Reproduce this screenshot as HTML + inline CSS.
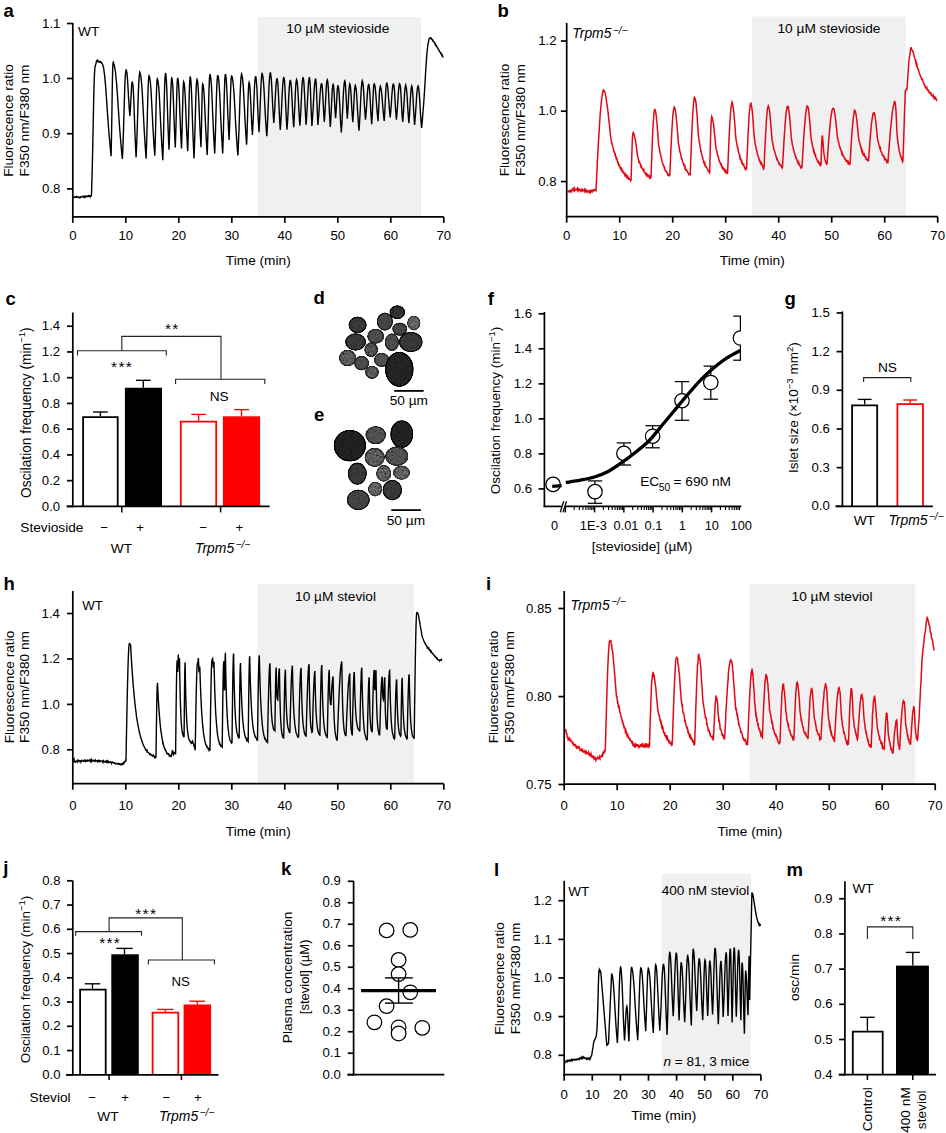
<!DOCTYPE html>
<html><head><meta charset="utf-8"><style>
html,body{margin:0;padding:0;background:#fff;width:946px;height:1133px;overflow:hidden}
svg{display:block}
text{font-family:"Liberation Sans", sans-serif}
</style></head><body>
<svg width="946" height="1133" viewBox="0 0 946 1133">
<defs><filter id="tex" x="-10%" y="-10%" width="120%" height="120%"><feTurbulence type="fractalNoise" baseFrequency="0.55" numOctaves="2" seed="4" result="n"/><feColorMatrix in="n" type="matrix" values="1 0 0 0 0  1 0 0 0 0  1 0 0 0 0  0 0 0 0 1" result="g"/><feComposite in="g" in2="SourceGraphic" operator="arithmetic" k1="1.6" k2="0" k3="0.2" k4="0"/></filter><filter id="tex2" x="-10%" y="-10%" width="120%" height="120%"><feTurbulence type="fractalNoise" baseFrequency="0.6" numOctaves="2" seed="9" result="n"/><feColorMatrix in="n" type="matrix" values="1 0 0 0 0  1 0 0 0 0  1 0 0 0 0  0 0 0 0 1" result="g"/><feComposite in="g" in2="SourceGraphic" operator="arithmetic" k1="2.6" k2="0" k3="-0.3" k4="0"/></filter></defs>
<rect width="946" height="1133" fill="#fff"/>
<text x="3.5" y="17" font-size="18.5" font-weight="bold" fill="#000">a</text>
<rect x="258" y="17" width="163" height="200" fill="#f0f0f0" stroke="none" stroke-width="0"/>
<text x="337.8" y="32.9" font-size="13.7" text-anchor="middle" fill="#000">10 µM stevioside</text>
<text x="78" y="35.8" font-size="13.7" fill="#000">WT</text>
<polyline points="73.5,197.24 73.75,197.38 74,197.14 74.25,197.07 74.5,196.87 74.75,197 75,197.28 75.25,197.06 75.5,197.16 75.75,196.91 76,196.9 76.25,196.91 76.5,196.52 76.75,197.21 77,197.19 77.25,197.26 77.5,196.78 77.75,196.83 78,197.11 78.25,197.28 78.5,197.54 78.75,197.52 79,197.73 79.25,197.35 79.5,197.49 79.75,197.42 80,197.07 80.25,197.57 80.5,197.19 80.75,197.26 81,196.71 81.25,196.59 81.5,196.6 81.75,196.57 82,196.66 82.25,196.6 82.5,196.47 82.75,196.39 83,196.54 83.25,197.01 83.5,196.55 83.75,196.85 84,196.94 84.25,196.5 84.5,196.93 84.75,197.28 85,196.5 85.25,196.84 85.5,196.81 85.75,196.55 86,196.79 86.25,196.57 86.5,196.13 86.75,196.62 87,196.5 87.25,196.49 87.5,196.53 87.75,196.17 88,196.03 88.25,195.73 88.5,196.25 88.75,196 89,196.09 89.25,195.93 89.5,196.06 89.75,196.22 90,196.72 90.25,195.74 90.5,195.74 90.75,196.01 91,196.16 91.25,195.79 91.5,195.03 91.76,185.77 92.03,176.86 92.29,166.23 92.56,154.84 92.82,143.02 93.09,129.81 93.35,116.04 93.61,103.16 93.88,91.86 94.14,82.93 94.41,75.72 94.67,70.8 94.94,67.71 95.2,65.61 95.46,65.42 95.72,64.44 95.98,63.43 96.24,61.91 96.5,61.34 96.75,61.46 97,60.55 97.25,60.7 97.5,60.75 97.75,60.39 98,61.34 98.25,61.29 98.5,61.33 98.75,61.66 99,61.96 99.25,61.78 99.5,61.99 99.75,61.48 100,61.5 100.25,61.81 100.5,61.51 100.75,61.61 101,62.4 101.25,62.87 101.5,62.72 101.75,62.82 102,63.47 102.25,63.78 102.51,64.21 102.76,65.26 103.01,65.45 103.26,66.99 103.52,67.53 103.77,69.02 104.02,70.96 104.28,72.9 104.53,74.89 104.78,77.06 105.03,79.56 105.29,82.34 105.54,85.47 105.79,88.51 106.04,92.04 106.3,95.68 106.55,99.21 106.8,103.15 107.06,106.87 107.31,110.99 107.56,114.28 107.81,117.72 108.07,121.27 108.32,124.78 108.57,128.32 108.82,131.2 109.08,134.46 109.33,137.8 109.58,139.58 109.84,142.73 110.09,145.8 110.34,148.49 110.59,151.04 110.85,153.4 111.1,156.16 111.35,144.33 111.6,130.88 111.85,116.2 112.1,98.69 112.35,82.87 112.6,71.7 112.85,65.14 113.1,62.48 113.35,62.14 113.6,63.17 113.85,64.17 114.11,64.42 114.36,65.66 114.61,67.07 114.86,68.41 115.11,70.14 115.36,71.14 115.61,73.5 115.86,75.77 116.12,78.53 116.37,81.4 116.62,83.45 116.87,87.6 117.12,90.36 117.37,94.46 117.62,97.62 117.88,101.82 118.13,105.91 118.38,109.41 118.63,113.3 118.88,117.2 119.13,120.7 119.38,124.2 119.64,128.06 119.89,131.27 120.14,134.15 120.39,138.02 120.64,140.06 120.89,143.5 121.14,146.03 121.39,148.89 121.65,151.73 121.9,154.24 122.15,156.93 122.4,158.92 122.66,152.62 122.93,146.47 123.19,138.89 123.46,131.04 123.72,122.37 123.99,113.87 124.25,104.36 124.51,95.59 124.78,87.12 125.04,80.96 125.31,75.85 125.57,72.93 125.84,70.99 126.1,69.28 126.35,70.4 126.61,71.24 126.86,72.48 127.11,74.2 127.37,77.9 127.62,81.08 127.87,85.09 128.13,89.82 128.38,94.35 128.63,98.96 128.89,102.36 129.14,106.61 129.39,110.12 129.65,113.32 129.9,115.95 130.17,112.04 130.43,108.3 130.7,103.3 130.97,97.92 131.23,92.82 131.5,87.82 131.77,84.11 132.03,82.71 132.3,81.54 132.55,83.04 132.81,84.51 133.06,86.78 133.31,90.46 133.57,95.34 133.82,100.94 134.07,107.99 134.33,114.94 134.58,122.59 134.83,129.79 135.09,136.39 135.34,141.86 135.59,147.83 135.85,152.37 136.1,157.53 136.36,151.32 136.63,145.73 136.89,138.33 137.16,131.2 137.42,123.02 137.69,114.34 137.95,105.29 138.21,96.99 138.48,89.91 138.74,83.4 139.01,78.93 139.27,75.82 139.54,73.48 139.8,72.19 140.05,72.83 140.3,74 140.56,74.41 140.81,76.11 141.06,78.35 141.31,80.55 141.56,83.06 141.82,86.43 142.07,89.92 142.32,93.67 142.57,98.06 142.82,103.07 143.08,108.44 143.33,113.11 143.58,118.04 143.83,122.95 144.08,127.45 144.34,132.28 144.59,136.27 144.84,140.69 145.09,143.87 145.34,148.24 145.6,151.55 145.85,154.67 146.1,158.68 146.36,150.97 146.63,142.42 146.89,133.82 147.15,124.11 147.42,113.06 147.68,102.53 147.95,92.96 148.21,85.52 148.47,80.32 148.74,77.47 149,75.86 149.25,76.3 149.5,76.48 149.76,78.41 150.01,80.09 150.26,81.71 150.51,84.17 150.77,87.79 151.02,90.4 151.27,95 151.52,99.97 151.77,103.97 152.03,109.42 152.28,114.84 152.53,119.4 152.78,124.48 153.03,129.25 153.29,133.24 153.54,137.65 153.79,141.73 154.04,145.66 154.3,149.08 154.55,152.55 154.8,155.75 155.05,148.22 155.3,140.14 155.55,130.5 155.8,119.62 156.05,108.33 156.3,98.66 156.55,89.85 156.8,83.89 157.05,79.61 157.3,78.86 157.55,79.34 157.8,80.53 158.05,81.51 158.3,83.13 158.55,85.51 158.8,87.67 159.05,91.76 159.3,95.5 159.55,99.7 159.8,105.12 160.05,110.46 160.3,115.05 160.55,120.62 160.8,126.12 161.05,131.12 161.3,135.75 161.55,140.1 161.8,145.13 162.05,148.89 162.3,152.2 162.55,155.87 162.8,160.23 163.07,151.42 163.34,142.19 163.61,131.34 163.88,118.97 164.15,106.58 164.42,94.13 164.69,85.01 164.96,78.63 165.23,74.88 165.5,72.82 165.75,73.9 166,75.88 166.25,78.76 166.5,82.96 166.75,88.32 167,94.92 167.25,102.85 167.5,110.69 167.75,118.32 168,125.7 168.25,132.55 168.5,138.66 168.75,144.44 169,149.8 169.25,143.4 169.51,136.34 169.76,128.34 170.02,120.1 170.27,110.86 170.53,101.34 170.78,92.91 171.04,86.66 171.29,81.88 171.55,78.97 171.8,78.21 172.05,78.8 172.3,80.88 172.55,83.03 172.8,86.36 173.05,91.68 173.3,98.39 173.55,104.78 173.8,111.76 174.05,118.97 174.3,125.88 174.55,131.9 174.8,137.35 175.05,142.82 175.3,147.48 175.57,139.6 175.83,131.24 176.1,121.76 176.37,110.63 176.63,99.58 176.9,89.73 177.17,83.44 177.43,79.83 177.7,77.93 177.95,79.04 178.21,80.41 178.46,82.81 178.71,85.82 178.97,90.85 179.22,95.91 179.47,101.81 179.73,108.67 179.98,116.16 180.23,122.01 180.49,128.43 180.74,134.07 180.99,139.02 181.25,143.59 181.5,148.55 181.78,140.2 182.05,130.93 182.32,119.83 182.6,107.5 182.88,96.56 183.15,88.42 183.42,83.68 183.7,81.71 183.95,82.33 184.2,83.87 184.45,85.45 184.7,88.38 184.95,92.26 185.2,96.53 185.45,102.27 185.7,107.95 185.95,114.62 186.2,121.19 186.45,127.12 186.7,132.47 186.95,137.51 187.2,141.94 187.45,147.21 187.7,151.13 187.95,143.92 188.2,135.38 188.45,126.52 188.7,115.92 188.95,105.77 189.2,95.71 189.45,86.92 189.7,81.8 189.95,78.65 190.2,76.56 190.45,77.44 190.71,79.35 190.96,82.14 191.21,85.75 191.47,91.12 191.72,97.41 191.97,104.75 192.23,112.61 192.48,120.74 192.73,128.27 192.99,134.72 193.24,141.41 193.49,147.28 193.75,152.9 194,158.48 194.25,151.99 194.5,145.13 194.75,136.97 195,128.57 195.25,119.58 195.5,109.89 195.75,100.75 196,93.08 196.25,87.01 196.5,83.29 196.75,80.69 197,79.38 197.25,79.91 197.5,81.32 197.75,82.65 198,85.85 198.25,89.75 198.5,93.92 198.75,99.71 199,105.65 199.25,111.48 199.5,117.89 199.75,123.69 200,129.27 200.25,134.29 200.5,138.76 200.75,142.93 201,147.26 201.28,136.52 201.57,123.85 201.85,108.64 202.13,94.95 202.42,86.83 202.7,84.11 202.95,84.61 203.2,85.6 203.45,87.49 203.7,89.65 203.95,92.76 204.2,96.56 204.45,100.75 204.7,106.51 204.95,111.38 205.2,117.47 205.45,122.92 205.7,128.64 205.95,132.9 206.2,138.1 206.45,142.82 206.7,147.12 206.95,151.55 207.2,154.88 207.45,147.86 207.71,139.88 207.96,131.23 208.22,121.38 208.47,110.64 208.73,100.25 208.98,90.55 209.24,83.89 209.49,78.36 209.75,75.66 210,74.73 210.26,74.82 210.52,76.09 210.78,78.22 211.04,80.47 211.31,83.58 211.57,88 211.83,93.06 212.09,98.78 212.35,104.62 212.61,111.7 212.87,118.08 213.13,123.81 213.39,129.64 213.66,134.84 213.92,140.33 214.18,144.52 214.44,149.36 214.7,153.38 214.95,146.86 215.2,140.29 215.45,132.86 215.7,124.1 215.95,114.71 216.2,105.51 216.45,96.25 216.7,88.67 216.95,83.12 217.2,78.97 217.45,76.07 217.7,75.57 217.95,75.58 218.2,76.78 218.45,77.91 218.7,80.1 218.95,82.3 219.2,86.48 219.45,90.33 219.7,94.29 219.95,99.38 220.2,104.9 220.45,111.34 220.7,116.66 220.95,122.3 221.2,127.5 221.45,132.49 221.7,136.89 221.95,141.55 222.2,145.34 222.45,149.65 222.7,153.58 222.97,145.73 223.24,136.94 223.51,127.09 223.78,116.44 224.05,104.7 224.32,94.39 224.59,85.53 224.86,79.33 225.13,75.68 225.4,74.02 225.66,74.76 225.93,76.48 226.19,79.12 226.46,82.7 226.72,87.39 226.99,93.52 227.25,99.35 227.51,106.39 227.78,113.79 228.04,118.88 228.31,124.93 228.57,130.35 228.84,135.23 229.1,139.9 229.35,133.37 229.6,126.55 229.85,118.64 230.1,110 230.35,99.98 230.6,91.48 230.85,84.71 231.1,79.61 231.35,76.73 231.6,75.86 231.85,75.97 232.1,77.01 232.36,78.05 232.61,79.29 232.86,81.05 233.11,83 233.36,85.2 233.62,88.51 233.87,92.04 234.12,95.61 234.37,99.91 234.62,104.58 234.88,108.82 235.13,113.91 235.38,118.89 235.63,122.85 235.88,127.4 236.14,131.51 236.39,135.9 236.64,139.37 236.89,143.11 237.14,146.17 237.4,149.66 237.65,152.87 237.9,155.56 238.16,150.63 238.43,144.42 238.69,137.23 238.96,130.74 239.22,122.74 239.49,114.55 239.75,106 240.01,97.4 240.28,90.57 240.54,85.19 240.81,80.28 241.07,77.09 241.34,75.05 241.6,74.09 241.85,75 242.1,76.24 242.35,77.26 242.6,79.04 242.85,81.9 243.1,84.16 243.35,87.67 243.6,92.11 243.85,96.74 244.1,101.33 244.35,106.44 244.6,111.93 244.85,116.89 245.1,121.22 245.35,125.94 245.6,130.01 245.85,134.19 246.1,137.77 246.35,141.34 246.6,144.71 246.85,138.86 247.1,132.16 247.35,124.1 247.6,115.82 247.85,106.3 248.1,98 248.35,91.35 248.6,86.84 248.85,83.56 249.1,82.38 249.35,83.16 249.61,84.18 249.86,86.86 250.12,90 250.37,94.63 250.62,99.55 250.88,105.17 251.13,111.56 251.38,117.17 251.64,122.03 251.89,126.99 252.15,130.94 252.4,134.85 252.67,130.28 252.93,124.58 253.2,119.12 253.47,112.97 253.73,106.28 254,98.86 254.27,92.2 254.53,86.22 254.8,82.07 255.07,79.38 255.33,76.92 255.6,76.79 255.86,76.79 256.12,78.49 256.38,80.97 256.65,84.7 256.91,88.77 257.17,94.16 257.43,101.03 257.69,107.32 257.95,113.17 258.22,119.04 258.48,123.32 258.74,127.83 259,132.23 259.26,127.29 259.52,122.47 259.77,116.11 260.03,110.07 260.29,102.45 260.55,96.41 260.81,89.4 261.07,84.03 261.33,79.99 261.58,76.44 261.84,74.52 262.1,73.58 262.36,74.02 262.62,75.04 262.88,76.81 263.14,78.67 263.41,81.3 263.67,84.53 263.93,88.75 264.19,93.15 264.45,97.91 264.71,103.22 264.97,108.08 265.23,112.69 265.49,117.91 265.76,121.93 266.02,125.55 266.28,129.8 266.54,133.18 266.8,136.11 267.05,132.44 267.3,127.4 267.55,122.46 267.8,116.75 268.05,110.61 268.3,103.77 268.55,97.76 268.8,91.2 269.05,85.56 269.3,81.19 269.55,77.71 269.8,75.46 270.05,73.68 270.3,72.99 270.55,73.07 270.8,74.7 271.05,76.86 271.3,79.72 271.55,82.85 271.8,87.29 272.05,92.7 272.3,97.45 272.55,102.83 272.8,107.83 273.05,111.78 273.3,116.07 273.55,119.31 273.8,123.05 274.07,119.33 274.33,115.47 274.6,111.44 274.87,107.01 275.13,101.04 275.4,95.66 275.67,90.82 275.93,86.11 276.2,83.19 276.47,80.92 276.73,79.31 277,78.83 277.25,79 277.51,80.98 277.76,82.65 278.02,86.07 278.27,90.35 278.52,95.53 278.78,101.51 279.03,107.04 279.28,112.31 279.54,117.46 279.79,122.2 280.05,125.93 280.3,129.89 280.55,126.43 280.8,122.29 281.05,117.71 281.3,114.08 281.55,109.02 281.8,102.61 282.05,97.62 282.3,92.51 282.55,88.06 282.8,84.26 283.05,81.2 283.3,79.03 283.55,78.06 283.8,77.66 284.07,77.93 284.33,79.61 284.6,82.56 284.87,85.99 285.13,91.53 285.4,97.52 285.67,104.13 285.93,110 286.2,115.58 286.47,120.76 286.73,125.47 287,129.63 287.25,126.06 287.51,122.25 287.76,118.04 288.02,113.42 288.27,107.58 288.52,102.14 288.78,96.15 289.03,92.27 289.28,87.52 289.54,84.58 289.79,82.55 290.05,80.73 290.3,80.52 290.56,81.03 290.82,81.86 291.08,84.45 291.35,87.63 291.61,90.76 291.87,96.14 292.13,101.19 292.39,106.51 292.65,111.45 292.92,116.18 293.18,119.9 293.44,123.96 293.7,127.2 293.96,123.17 294.23,118.12 294.49,113.12 294.75,107.8 295.02,101.19 295.28,94.77 295.55,88.99 295.81,84.79 296.07,82.07 296.34,80.47 296.6,79.51 296.85,80.16 297.11,81.3 297.36,83.69 297.62,86.19 297.87,90.02 298.12,95.06 298.38,100.03 298.63,105.15 298.88,110 299.14,114.56 299.39,118.86 299.65,122.56 299.9,125.7 300.17,122.11 300.43,117.75 300.7,112.76 300.97,107.99 301.23,102.02 301.5,96.08 301.77,90.76 302.03,86.15 302.3,82.02 302.57,79.79 302.83,77.92 303.1,77.98 303.35,78 303.6,79.93 303.85,81.91 304.1,85.81 304.35,90.79 304.6,95.07 304.85,101.37 305.1,107.17 305.35,112.11 305.6,116.55 305.85,121.44 306.1,124.82 306.35,120.8 306.61,117.59 306.86,112.8 307.12,108.96 307.37,103.52 307.62,98.4 307.88,93.42 308.13,88.37 308.38,84.05 308.64,80.99 308.89,79.63 309.15,78.23 309.4,77.2 309.65,78.59 309.9,80.69 310.15,84.39 310.4,88.97 310.65,96.09 310.9,103.49 311.15,110.13 311.4,116.11 311.65,120.55 311.9,126.04 312.16,122.83 312.43,119.85 312.69,115.23 312.96,111.29 313.22,106.91 313.49,102.33 313.75,97.1 314.01,92.82 314.28,88.23 314.54,85.15 314.81,82.43 315.07,80.83 315.34,79.5 315.6,78.7 315.86,80.46 316.11,82.79 316.37,86.87 316.62,93.22 316.88,100.71 317.13,107.44 317.39,114.08 317.64,119.86 317.9,124.93 318.16,121.82 318.43,118.31 318.69,115.86 318.96,112.03 319.22,108.03 319.49,103.74 319.75,99.57 320.01,95.3 320.28,91.54 320.54,88.67 320.81,86.49 321.07,84.93 321.34,83.81 321.6,83.76 321.87,84.05 322.14,86.28 322.41,88.78 322.68,93.35 322.95,98.89 323.22,104.24 323.49,109.34 323.76,114.26 324.03,118.49 324.3,121.87 324.55,118.66 324.8,115.11 325.05,110.85 325.3,106.44 325.55,101.62 325.8,96.46 326.05,91.61 326.3,87.39 326.55,84.01 326.8,81.89 327.05,80.48 327.3,79.82 327.55,80.58 327.8,81.7 328.05,84.49 328.3,88.1 328.55,92.5 328.8,98.19 329.05,104.11 329.3,109.51 329.55,115.15 329.8,118.56 330.05,123.35 330.3,126.84 330.55,123.68 330.81,119.92 331.06,114 331.32,109.48 331.57,103.94 331.83,98.12 332.08,93.38 332.34,88.84 332.59,86.96 332.85,85.24 333.1,84.41 333.35,84.94 333.6,86.78 333.85,89.07 334.1,92.97 334.35,97.44 334.6,101.98 334.85,107.23 335.1,111.45 335.35,115.3 335.6,118.28 335.87,114.82 336.13,110.91 336.4,106.14 336.67,101.18 336.93,96.09 337.2,90.91 337.47,87.53 337.73,86.4 338,85.78 338.25,86.26 338.51,87.52 338.76,89.22 339.02,92.15 339.27,96.44 339.52,100.71 339.78,105.69 340.03,111.14 340.28,116.96 340.54,121.33 340.79,124.79 341.05,128.56 341.3,132.36 341.55,128.52 341.8,125.22 342.05,120.78 342.3,116.06 342.55,111.78 342.8,106.07 343.05,100.92 343.3,95.76 343.55,91.2 343.8,87.72 344.05,84.71 344.3,82.48 344.55,81.17 344.8,80.78 345.05,81.66 345.3,83.53 345.55,86.37 345.8,90.58 346.05,95.57 346.3,100.8 346.55,105.97 346.8,110.19 347.05,114.74 347.3,118.62 347.55,115.21 347.8,111.31 348.05,107.1 348.3,102.64 348.55,97.39 348.8,92.87 349.05,89.08 349.3,86.39 349.55,85.12 349.8,83.96 350.05,84.59 350.3,85.69 350.55,87.67 350.8,91.1 351.05,94.89 351.3,98.85 351.55,103.65 351.8,108.29 352.05,112.29 352.3,116.08 352.55,118.84 352.8,122.14 353.05,118.74 353.3,114.98 353.55,110.14 353.8,104.82 354.05,99.56 354.3,94.45 354.55,90.37 354.8,88.18 355.05,85.99 355.3,85.41 355.56,86.49 355.83,87.34 356.09,88.85 356.36,91.07 356.62,94.57 356.89,98.87 357.15,103.16 357.41,108.09 357.68,112.46 357.94,116.91 358.21,120.71 358.47,124.51 358.74,128.12 359,130.64 359.25,127.2 359.51,123.25 359.76,118.68 360.02,113.94 360.27,108.95 360.52,103.67 360.78,97.79 361.03,92.7 361.28,88.08 361.54,85.81 361.79,83.16 362.05,81.77 362.3,80.82 362.57,81.68 362.83,82.64 363.1,84.93 363.37,87.92 363.63,91.59 363.9,96.11 364.17,100.55 364.43,105.66 364.7,109.29 364.97,112.74 365.23,116.57 365.5,119.61 365.77,116.63 366.03,113.67 366.3,110.41 366.57,106.25 366.83,102.35 367.1,98.42 367.37,94.16 367.63,90.49 367.9,87.92 368.17,86.03 368.43,84.93 368.7,84.58 368.95,84.99 369.2,85.7 369.45,88.38 369.7,91.17 369.95,95.51 370.2,99.85 370.45,104.96 370.7,110.21 370.95,113.74 371.2,117.63 371.45,121.12 371.7,124.2 371.95,120.23 372.2,116.32 372.45,111.03 372.7,105.06 372.95,99.14 373.2,94.04 373.45,89.19 373.7,86.19 373.95,84.51 374.2,83.94 374.45,84.5 374.71,85.06 374.96,86.07 375.21,87.82 375.47,90.53 375.72,93.29 375.97,96.18 376.23,99.97 376.48,103.57 376.73,107.01 376.99,110.11 377.24,112.89 377.49,115.84 377.75,118.17 378,121.31 378.27,116.75 378.55,111.37 378.82,106.27 379.1,99.8 379.38,93.28 379.65,90 379.93,87.31 380.2,86.62 380.45,86.14 380.7,87.24 380.95,88.23 381.2,89.59 381.45,91.46 381.7,94.02 381.95,96.14 382.2,99.26 382.45,102.42 382.7,105.78 382.95,108.75 383.2,111.77 383.45,114.3 383.7,116.63 383.95,118.69 384.2,120.89 384.45,117.45 384.7,113.26 384.95,108.44 385.2,103.09 385.45,98 385.7,92.26 385.95,88.42 386.2,85.67 386.45,83.6 386.7,83.11 386.95,83.04 387.2,84.39 387.45,85.49 387.7,86.89 387.95,89.91 388.2,92.53 388.45,96.5 388.7,99.61 388.95,103.25 389.2,106.64 389.45,109.49 389.7,112.39 389.95,114.75 390.2,117.47 390.47,114.53 390.73,111.6 391,107.61 391.27,104.97 391.53,100.73 391.8,96.17 392.07,92.75 392.33,89.55 392.6,87.19 392.87,84.91 393.13,84.5 393.4,83.56 393.65,84.75 393.9,85.26 394.15,87.34 394.4,89.78 394.65,93.13 394.9,97.85 395.15,102.22 395.4,106.63 395.65,110.34 395.9,113.48 396.15,116.4 396.4,119.64 396.65,116.89 396.91,113.93 397.16,111.11 397.42,107.56 397.67,103.59 397.92,99.65 398.18,95.56 398.43,92.01 398.68,89.13 398.94,86.91 399.19,84.91 399.45,83.71 399.7,83.96 399.95,84.22 400.2,85.69 400.45,87.01 400.7,90.22 400.95,94.09 401.2,98.18 401.45,103.13 401.7,107.99 401.95,112.23 402.2,116.1 402.45,118.9 402.7,121.95 402.95,119.39 403.2,116.24 403.45,112.49 403.7,108.16 403.95,104.34 404.2,99.84 404.45,95.53 404.7,91.67 404.95,89.12 405.2,87.33 405.45,85.82 405.7,84.94 405.97,86.05 406.23,87.28 406.5,89.09 406.77,92.1 407.03,95.38 407.3,99.82 407.57,104.32 407.83,108.94 408.1,113.2 408.37,116.36 408.63,120.24 408.9,123.18 409.15,119.69 409.41,116.07 409.66,112.4 409.92,107.48 410.17,102.68 410.43,97.64 410.68,93.78 410.94,90.72 411.19,88.24 411.45,86.84 411.7,86.05 411.96,86.82 412.23,87.86 412.49,90.87 412.75,93.98 413.02,98.27 413.28,103.43 413.55,108.49 413.81,113.58 414.07,117.81 414.34,120.98 414.6,125.03 414.85,122.3 415.1,119.06 415.35,115.74 415.6,112.55 415.85,108.88 416.1,105.17 416.35,100.95 416.6,96.68 416.85,93.85 417.1,90.66 417.35,89.18 417.6,87.19 417.85,86.4 418.1,85.89 418.35,86.48 418.6,87.95 418.85,89.44 419.1,91.66 419.35,94.61 419.6,97.86 419.85,102.34 420.1,106.76 420.35,110.99 420.6,115.41 420.85,118.79 421.1,122.19 421.35,125.26 421.6,127.99 421.85,125.91 422.1,123.29 422.35,120.13 422.6,116.89 422.85,113.42 423.1,111 423.35,108 423.6,104.39 423.85,101.03 424.1,97.5 424.35,93.61 424.6,89.28 424.85,85.6 425.1,81.41 425.35,76.68 425.6,72.84 425.85,68.54 426.1,64.98 426.35,61.45 426.6,57.58 426.85,54.15 427.1,52.11 427.35,49.3 427.6,47.29 427.85,44.61 428.1,43.5 428.35,42.32 428.6,41.11 428.85,39.6 429.1,38.97 429.35,38.32 429.6,38.25 429.87,38.33 430.14,38.16 430.41,37.87 430.69,38.47 430.96,38.24 431.23,38.59 431.5,38.57 431.75,39.26 432,39.48 432.25,39.44 432.5,39.99 432.75,40.69 433,40.47 433.25,41.06 433.5,41.6 433.75,41.96 434,42.13 434.25,42.09 434.5,42.52 434.75,43.31 435,43.76 435.25,44.72 435.5,44.28 435.75,45.2 436,45.53 436.25,45.33 436.5,45.96 436.75,46.62 437,46.88 437.25,47.38 437.5,47.95 437.75,48.05 438,48.78 438.25,48.92 438.5,49.36 438.75,50.05 439,50.19 439.25,50.82 439.5,51.57 439.75,51.59 440,51.96 440.25,52.56 440.51,52.66 440.76,53.4 441.02,53.19 441.27,54.04 441.52,54.13 441.78,54.44 442.03,55.46 442.28,55.18 442.54,56.21 442.79,56.31 443.05,56.89 443.3,56.66" fill="none" stroke="#000" stroke-width="1.4" stroke-linejoin="miter"/>
<line x1="72.8" y1="23" x2="72.8" y2="217.75" stroke="#000" stroke-width="1.7" stroke-linecap="butt"/>
<line x1="67" y1="23.5" x2="72.8" y2="23.5" stroke="#000" stroke-width="1.7" stroke-linecap="butt"/>
<text x="60.4" y="27.6" font-size="13.2" text-anchor="end" fill="#000">1.1</text>
<line x1="67" y1="78.5" x2="72.8" y2="78.5" stroke="#000" stroke-width="1.7" stroke-linecap="butt"/>
<text x="60.4" y="82.6" font-size="13.2" text-anchor="end" fill="#000">1.0</text>
<line x1="67" y1="133.7" x2="72.8" y2="133.7" stroke="#000" stroke-width="1.7" stroke-linecap="butt"/>
<text x="60.4" y="137.8" font-size="13.2" text-anchor="end" fill="#000">0.9</text>
<line x1="67" y1="188.9" x2="72.8" y2="188.9" stroke="#000" stroke-width="1.7" stroke-linecap="butt"/>
<text x="60.4" y="193" font-size="13.2" text-anchor="end" fill="#000">0.8</text>
<line x1="71.95" y1="216.9" x2="443.8" y2="216.9" stroke="#000" stroke-width="1.7" stroke-linecap="butt"/>
<line x1="72.8" y1="216.9" x2="72.8" y2="222.9" stroke="#000" stroke-width="1.7" stroke-linecap="butt"/>
<text x="72.8" y="240" font-size="13.2" text-anchor="middle" fill="#000">0</text>
<line x1="125.8" y1="216.9" x2="125.8" y2="222.9" stroke="#000" stroke-width="1.7" stroke-linecap="butt"/>
<text x="125.8" y="240" font-size="13.2" text-anchor="middle" fill="#000">10</text>
<line x1="178.8" y1="216.9" x2="178.8" y2="222.9" stroke="#000" stroke-width="1.7" stroke-linecap="butt"/>
<text x="178.8" y="240" font-size="13.2" text-anchor="middle" fill="#000">20</text>
<line x1="231.8" y1="216.9" x2="231.8" y2="222.9" stroke="#000" stroke-width="1.7" stroke-linecap="butt"/>
<text x="231.8" y="240" font-size="13.2" text-anchor="middle" fill="#000">30</text>
<line x1="284.8" y1="216.9" x2="284.8" y2="222.9" stroke="#000" stroke-width="1.7" stroke-linecap="butt"/>
<text x="284.8" y="240" font-size="13.2" text-anchor="middle" fill="#000">40</text>
<line x1="337.8" y1="216.9" x2="337.8" y2="222.9" stroke="#000" stroke-width="1.7" stroke-linecap="butt"/>
<text x="337.8" y="240" font-size="13.2" text-anchor="middle" fill="#000">50</text>
<line x1="390.8" y1="216.9" x2="390.8" y2="222.9" stroke="#000" stroke-width="1.7" stroke-linecap="butt"/>
<text x="390.8" y="240" font-size="13.2" text-anchor="middle" fill="#000">60</text>
<line x1="443.8" y1="216.9" x2="443.8" y2="222.9" stroke="#000" stroke-width="1.7" stroke-linecap="butt"/>
<text x="443.8" y="240" font-size="13.2" text-anchor="middle" fill="#000">70</text>
<text x="258.3" y="264.6" font-size="13.7" text-anchor="middle" fill="#000">Time (min)</text>
<text x="13.2" y="120.5" font-size="13.7" text-anchor="middle" fill="#000" transform="rotate(-90 13.2 120.5)">Fluorescence ratio</text>
<text x="28.8" y="120.5" font-size="13.7" text-anchor="middle" fill="#000" transform="rotate(-90 28.8 120.5)">F350 nm/F380 nm</text>
<text x="497.5" y="17" font-size="18.5" font-weight="bold" fill="#000">b</text>
<rect x="752" y="16.5" width="153.8" height="200.4" fill="#f0f0f0" stroke="none" stroke-width="0"/>
<text x="829" y="32.9" font-size="13.7" text-anchor="middle" fill="#000">10 µM stevioside</text>
<text x="572.3" y="38.1" font-size="13.9" font-style="italic" fill="#000">Trpm5</text>
<text x="612.76" y="33.5" font-size="10.2" font-style="italic" fill="#000">−/−</text>
<polyline points="567.5,192.04 567.75,192.09 568,191.31 568.25,191.23 568.5,192.33 568.75,191.23 569,190.89 569.25,190.73 569.5,191.14 569.75,191.02 570,190.88 570.25,191.49 570.5,190.49 570.75,190.76 571,191.12 571.25,189.93 571.5,190.77 571.75,191.04 572,189.52 572.25,189.56 572.5,189.5 572.75,189.05 573,190 573.25,188.95 573.5,189.99 573.75,190.4 574,189 574.25,189.56 574.5,188.82 574.75,190.02 575,189.32 575.25,189.51 575.5,189.64 575.75,189.84 576,189.42 576.25,189.56 576.5,189.29 576.75,189.57 577,188.97 577.25,189.58 577.5,188.73 577.75,189.43 578,190.56 578.25,189.79 578.5,189.23 578.75,189.97 579,189.46 579.25,189.21 579.5,189.67 579.75,190.38 580,190.27 580.25,190.11 580.5,189.78 580.75,189.76 581,190.91 581.25,190.44 581.5,189.93 581.75,189.44 582,189.81 582.25,191.57 582.5,189.97 582.75,190.48 583,190.64 583.25,190.51 583.5,190.49 583.75,190.03 584,190.2 584.25,191.47 584.5,190.4 584.75,191.15 585,190.04 585.25,190.74 585.5,191.05 585.75,191.47 586,190.56 586.25,191.4 586.5,191.37 586.75,190.93 587,191.55 587.25,191 587.5,191.11 587.75,191.52 588,190.38 588.25,191.52 588.5,191.08 588.75,190.84 589,191.28 589.25,191.78 589.5,191.22 589.75,191.94 590,190.81 590.25,190.71 590.5,191.96 590.75,191.41 591,191.63 591.25,190.78 591.5,191.46 591.75,191.17 592,191.29 592.25,190.96 592.5,191.44 592.75,190.56 593,190.37 593.25,190.09 593.5,191.22 593.75,190.32 594,190.13 594.25,190.14 594.5,190.32 594.75,189.92 595,190.32 595.25,190.13 595.5,190.13 595.75,189.91 596,190.32 596.26,184.87 596.51,179.92 596.77,174.8 597.03,169.7 597.28,163.48 597.54,159.22 597.8,154.18 598.05,150.06 598.31,144.28 598.57,140.08 598.82,135.81 599.08,131.49 599.34,127.94 599.59,123.32 599.85,120.16 600.11,115.47 600.36,111.93 600.62,110.11 600.88,106.8 601.13,104.09 601.39,101.43 601.65,99.35 601.9,96.58 602.16,95.81 602.42,93.66 602.67,93.12 602.93,91.77 603.19,90.16 603.44,90.06 603.7,91.01 603.95,90.53 604.2,90.69 604.45,91.42 604.71,91.73 604.96,92.45 605.21,93.66 605.46,94.74 605.71,96.55 605.96,97.22 606.21,99.49 606.47,101.02 606.72,102.66 606.97,104.14 607.22,105.59 607.47,107.56 607.72,109.49 607.97,111.35 608.22,113.86 608.48,115.87 608.73,119.24 608.98,121.13 609.23,123.14 609.48,124.97 609.73,128.35 609.98,130.76 610.24,133.07 610.49,135.69 610.74,136.75 610.99,139.19 611.24,140.05 611.49,142.36 611.74,142.27 612,143.29 612.25,145.04 612.5,145.47 612.75,146.48 613,147.2 613.25,148.05 613.5,149.92 613.76,150.59 614.01,151.8 614.26,151.73 614.51,152.74 614.76,153.15 615.01,154.78 615.26,154.5 615.51,156.14 615.77,157.13 616.02,158 616.27,157.65 616.52,159.26 616.77,159.12 617.02,159.76 617.27,160.16 617.53,161.9 617.78,162.74 618.03,162.33 618.28,162.84 618.53,163.61 618.78,165.45 619.03,165.32 619.29,165.15 619.54,165.11 619.79,166.13 620.04,167.46 620.29,168.25 620.54,167.76 620.79,168.04 621.04,168.57 621.3,168.39 621.55,170.08 621.8,169.6 622.05,170.98 622.3,170.13 622.55,170.72 622.8,171.8 623.06,171.7 623.31,172.76 623.56,172.77 623.81,172.59 624.06,173.73 624.31,174.16 624.56,173.25 624.82,175.25 625.07,174.96 625.32,175.38 625.57,174.49 625.82,175.29 626.07,175.74 626.32,176.65 626.58,175.78 626.83,176.3 627.08,176.04 627.33,177.09 627.58,177.6 627.83,176.92 628.08,177.65 628.33,178.37 628.59,179.07 628.84,178.87 629.09,178.65 629.34,178.46 629.59,178.77 629.84,179.09 630.09,179.64 630.35,179.74 630.6,180.7 630.85,180.26 631.1,179.82 631.35,171.75 631.6,162.59 631.85,154.01 632.1,146.46 632.35,140.05 632.6,136.05 632.85,134.22 633.1,132.54 633.35,132.41 633.6,133.41 633.86,133.94 634.11,134.8 634.36,135.68 634.61,137.03 634.86,137.17 635.12,139.28 635.37,139.8 635.62,142.07 635.87,143.45 636.13,145.18 636.38,147.28 636.63,148.69 636.88,151.1 637.13,152.95 637.39,154.62 637.64,156.06 637.89,156.88 638.14,157.85 638.39,158.83 638.65,159.72 638.9,161.85 639.15,161.55 639.4,162.33 639.65,162.3 639.91,163.04 640.16,163.86 640.41,164.72 640.66,164.77 640.92,166.54 641.17,166.12 641.42,167.4 641.67,166.39 641.92,167.94 642.18,168.55 642.43,168.98 642.68,169.61 642.93,169.9 643.18,170.27 643.44,169.74 643.69,170.66 643.94,170.3 644.19,172 644.45,172.21 644.7,172.32 644.95,172.36 645.2,172.78 645.45,174.17 645.71,174.41 645.96,173.88 646.21,174.76 646.46,173.72 646.71,173.82 646.97,174.71 647.22,174.77 647.47,175.14 647.72,175.69 647.97,177.17 648.23,175.72 648.48,176.23 648.73,176.52 648.98,176.56 649.24,177.17 649.49,177.71 649.74,176.52 649.99,177.3 650.24,177.26 650.5,177.69 650.75,176.98 651,177.01 651.25,169.61 651.51,163.82 651.76,156.75 652.01,150.01 652.27,142.54 652.52,137.43 652.77,131.69 653.03,126.33 653.28,122.05 653.53,118.88 653.79,115.56 654.04,112.74 654.29,111.13 654.55,109.5 654.8,109.43 655.05,109.64 655.3,110.52 655.55,111.29 655.8,112.66 656.05,114.39 656.3,116.19 656.55,119.78 656.8,121.55 657.05,124.27 657.3,128.05 657.55,130.77 657.8,132.69 658.05,137.08 658.3,140.61 658.55,144.63 658.8,145.97 659.05,147.25 659.3,147.83 659.55,149.37 659.8,151.22 660.05,152.61 660.3,153.15 660.55,154.62 660.8,155.73 661.05,157.02 661.3,158.18 661.55,158.89 661.8,159.4 662.05,161.43 662.3,162.45 662.55,162.52 662.8,163.83 663.05,164.33 663.3,165.15 663.55,165.77 663.8,165.88 664.05,167.12 664.3,167.94 664.55,167.67 664.8,169.52 665.05,170.11 665.3,170.51 665.55,171.08 665.8,170.99 666.05,170.96 666.3,171.27 666.55,171.59 666.8,172.41 667.05,172.72 667.3,173.4 667.55,172.54 667.8,174.83 668.05,175.13 668.3,174.4 668.55,175.01 668.8,175.2 669.05,175.38 669.3,175.42 669.55,175.71 669.8,175.63 670.05,170.1 670.3,164.08 670.55,158.39 670.8,152.15 671.05,147.03 671.3,141.72 671.55,136.92 671.8,131.43 672.05,127.68 672.3,123.89 672.55,120.07 672.8,116.42 673.05,113.61 673.3,111.43 673.55,110.07 673.8,109.14 674.05,107.59 674.3,107.11 674.55,107.78 674.8,108.3 675.06,108.76 675.31,110.13 675.56,112.02 675.81,114.25 676.07,115.55 676.32,118 676.57,121.26 676.82,123.24 677.08,126.76 677.33,129.94 677.58,132.92 677.83,135.8 678.09,139.6 678.34,142.44 678.59,144.26 678.84,145.19 679.1,147.46 679.35,147.56 679.6,149.52 679.85,150.84 680.1,152.46 680.36,152.89 680.61,154.51 680.86,155.05 681.11,156.65 681.37,158.06 681.62,158.03 681.87,159.3 682.12,159.53 682.38,161.21 682.63,162.1 682.88,162.33 683.13,162.52 683.39,163.91 683.64,164.91 683.89,165.52 684.14,166.01 684.4,165.41 684.65,166.5 684.9,167.98 685.15,167.31 685.4,168.87 685.66,169.69 685.91,169.64 686.16,170.25 686.41,170.02 686.67,170.02 686.92,170.91 687.17,171.24 687.42,171.67 687.68,172.35 687.93,172.3 688.18,172.77 688.43,173.18 688.69,173.28 688.94,174.39 689.19,174.03 689.44,174.13 689.7,174.24 689.95,174.29 690.2,175.4 690.45,168.13 690.7,160.89 690.95,154.54 691.2,148.3 691.45,141.93 691.7,136.64 691.95,129.94 692.2,125.33 692.45,120.21 692.7,115.05 692.95,111.5 693.2,107.81 693.45,104.97 693.7,101.96 693.95,100.27 694.2,97.92 694.45,97.31 694.7,97.85 694.95,98.22 695.2,98.48 695.45,99.38 695.7,101.72 695.95,102.23 696.2,105.09 696.45,108.34 696.7,111.18 696.95,113.52 697.2,116.44 697.45,121.44 697.7,124.51 697.95,127.83 698.2,132.16 698.45,136.53 698.7,136.74 698.95,140.12 699.2,141.59 699.45,141.9 699.7,144.68 699.95,144.98 700.2,147.67 700.45,148.66 700.7,150.76 700.95,150.68 701.2,152.11 701.45,153.69 701.7,154 701.95,154.99 702.2,156.11 702.45,157.18 702.7,157.62 702.95,159.18 703.2,160.03 703.45,160.6 703.7,162.09 703.95,161.89 704.2,163.32 704.45,163.15 704.7,164.36 704.95,163.76 705.2,165.3 705.45,165.69 705.7,166.07 705.95,166.53 706.2,167.14 706.45,167.44 706.7,167.22 706.95,168.37 707.2,168.8 707.45,169.2 707.7,169.34 707.95,170.11 708.2,170.87 708.45,170.74 708.7,170.94 708.95,172.08 709.2,172.2 709.45,172.45 709.7,172.82 709.95,161.34 710.2,151.04 710.45,142.02 710.7,132.88 710.95,126.18 711.2,121.29 711.45,118.13 711.7,116.78 711.95,117.52 712.2,117.5 712.46,118.71 712.71,119.95 712.96,121.12 713.21,122.73 713.47,123.67 713.72,125.59 713.97,128.07 714.22,130.88 714.48,133.8 714.73,135.14 714.98,138.51 715.23,140.75 715.49,143.63 715.74,146.33 715.99,148.04 716.24,149.05 716.5,150.66 716.75,150.81 717,152.74 717.25,153.8 717.5,154.41 717.76,155.55 718.01,156 718.26,156.64 718.51,157.8 718.77,158.5 719.02,160.87 719.27,160.1 719.52,161.77 719.78,161.81 720.03,162.52 720.28,163.35 720.53,163.27 720.79,164.61 721.04,164.93 721.29,164.62 721.54,166.08 721.8,166.56 722.05,166.99 722.3,167.95 722.55,167.49 722.8,168.32 723.06,168.83 723.31,168.48 723.56,169.79 723.81,168.95 724.07,169.36 724.32,170.51 724.57,170.1 724.82,170.84 725.08,170.44 725.33,171.49 725.58,171.21 725.83,172.13 726.09,171.53 726.34,172.66 726.59,172.57 726.84,172.93 727.1,173.08 727.35,173.37 727.6,172.91 727.85,166.2 728.1,161.27 728.35,154.83 728.6,149.18 728.85,143.9 729.1,137.36 729.35,132.72 729.6,127.91 729.85,123.17 730.1,119.64 730.35,115.69 730.6,112.08 730.85,109.16 731.1,107.61 731.35,105.11 731.6,104.33 731.85,103.47 732.1,102.15 732.35,102.75 732.6,103.93 732.85,105.19 733.1,106.88 733.35,108.72 733.6,110.97 733.85,112.76 734.1,115.51 734.35,118.85 734.6,121.4 734.85,125.33 735.1,127.54 735.35,132.07 735.6,135.32 735.85,137.17 736.1,140.1 736.35,141.33 736.6,142.67 736.85,143.58 737.1,145.19 737.35,147.36 737.6,147.53 737.85,147.51 738.1,149.81 738.35,150.73 738.6,152.23 738.85,153.09 739.1,153.8 739.35,154.72 739.6,156.43 739.85,156.13 740.1,158.44 740.35,158.06 740.6,158.53 740.85,160.06 741.1,160.61 741.35,160.51 741.6,161.92 741.85,161.32 742.1,162.28 742.35,163.73 742.6,163.61 742.85,163.61 743.1,164.89 743.35,165.51 743.6,165.5 743.85,165.1 744.1,166.14 744.35,166.84 744.6,167.35 744.85,168.17 745.1,167.54 745.35,167.75 745.6,168.24 745.85,169.08 746.1,168.38 746.35,169.64 746.6,168.06 746.86,163.2 747.12,156.14 747.39,150.38 747.65,144.39 747.91,137.7 748.17,132.65 748.44,127.6 748.7,122.97 748.96,117.94 749.23,114.06 749.49,110.32 749.75,109.56 750.01,106.15 750.27,104.57 750.54,103.04 750.8,103.82 751.05,103.44 751.3,105.12 751.55,106.13 751.8,107.46 752.05,109.87 752.31,111.47 752.56,114.57 752.81,117.47 753.06,120.4 753.31,124.42 753.56,127.96 753.81,132.42 754.06,134.11 754.31,137.61 754.56,139.17 754.82,140.97 755.07,142.88 755.32,144.32 755.57,145.52 755.82,146.61 756.07,148.29 756.32,149.42 756.57,149.55 756.82,151.34 757.07,151.87 757.32,152.93 757.58,154.45 757.83,155.3 758.08,156.17 758.33,156.52 758.58,157.59 758.83,157.99 759.08,159.27 759.33,160.07 759.58,161.17 759.83,161.55 760.08,161.19 760.34,161.88 760.59,162.18 760.84,163.23 761.09,164.46 761.34,164.33 761.59,163.44 761.84,164.27 762.09,164.64 762.34,165.82 762.59,165.93 762.85,166.4 763.1,167.38 763.35,166.51 763.6,166.79 763.85,168.33 764.1,167.85 764.36,161.3 764.62,154.75 764.89,149.1 765.15,142.99 765.41,138.65 765.67,133.44 765.94,129 766.2,124.01 766.46,119.69 766.73,116.06 766.99,114.14 767.25,109.9 767.51,108.73 767.77,107.2 768.04,106.57 768.3,105.82 768.55,106.46 768.81,107.29 769.06,107.96 769.31,109.29 769.57,111.23 769.82,113 770.07,115.73 770.33,118.32 770.58,121.4 770.84,124.94 771.09,128.12 771.34,130.66 771.6,134.56 771.85,137.94 772.1,139.72 772.36,140.89 772.61,142.44 772.86,143.48 773.12,144.65 773.37,146.64 773.62,148.03 773.88,148.88 774.13,149.86 774.39,150.83 774.64,151.49 774.89,151.84 775.15,153.84 775.4,154.5 775.65,154.98 775.91,155.58 776.16,157.34 776.41,156.67 776.67,158.96 776.92,159.1 777.17,160.51 777.43,159.71 777.68,160.59 777.94,160.92 778.19,161.73 778.44,162.06 778.7,162.29 778.95,163.56 779.2,163.15 779.46,163.69 779.71,164.56 779.96,164.44 780.22,164.84 780.47,165.54 780.73,165.54 780.98,165.45 781.23,166.26 781.49,166.49 781.74,167.63 781.99,166.63 782.25,167.8 782.5,167.25 782.76,162.61 783.02,157.82 783.28,153.34 783.54,148.95 783.8,144.81 784.06,139.35 784.32,136.01 784.58,131.84 784.84,127.96 785.1,123.7 785.36,121.16 785.62,117.72 785.88,115.24 786.14,112.59 786.4,110.99 786.66,109.52 786.92,108.21 787.18,106.67 787.44,106.64 787.7,106.65 787.95,105.81 788.2,107.56 788.45,107.36 788.7,109.63 788.95,111.41 789.21,113.86 789.46,115.64 789.71,117.86 789.96,120.49 790.21,123.23 790.46,127.25 790.71,130.04 790.96,133.18 791.21,137.17 791.46,138.63 791.71,140.27 791.96,141.69 792.22,144.01 792.47,145.23 792.72,145.75 792.97,146.3 793.22,148.27 793.47,149.27 793.72,150.43 793.97,151.52 794.22,152.07 794.47,153.54 794.72,154.37 794.98,154.91 795.23,155.42 795.48,156.15 795.73,157.4 795.98,157.28 796.23,158.36 796.48,158.72 796.73,159.03 796.98,160.51 797.23,160.77 797.48,161.33 797.74,162.2 797.99,161.62 798.24,162.72 798.49,163.31 798.74,163.97 798.99,163.51 799.24,164.7 799.49,164.84 799.74,165.7 799.99,165.94 800.24,165.99 800.49,167.01 800.75,166.33 801,166.42 801.25,166.72 801.5,166.7 801.75,167.36 802,166.75 802.25,163.18 802.5,159.05 802.75,154.99 803,150.15 803.25,146.77 803.5,141.8 803.75,138.11 804,133.56 804.25,130.46 804.5,127.04 804.75,124.84 805,121.43 805.25,117.96 805.5,116.18 805.75,113.92 806,111.65 806.25,110.08 806.5,108.55 806.75,107.36 807,106.05 807.25,106.32 807.5,106.76 807.75,107.07 808,107.03 808.25,107.94 808.5,109.68 808.75,112.02 809,113.93 809.25,115.95 809.5,119.04 809.75,121.67 810,125.05 810.25,127.85 810.5,130.73 810.75,134.84 811,137.68 811.25,138.38 811.5,140.27 811.75,142.09 812,142.85 812.25,143.99 812.5,146.36 812.75,146.97 813,148.15 813.25,148.32 813.5,150.43 813.75,149.93 814,151.33 814.25,152.73 814.5,153.8 814.75,153.59 815,154.44 815.25,155.53 815.5,155.27 815.75,157.03 816,157.61 816.25,157.75 816.5,158.73 816.75,159.36 817,159.66 817.25,160.23 817.5,161.12 817.75,160.69 818,161.38 818.25,161.48 818.5,162.53 818.75,162.26 819,162.99 819.25,163.17 819.5,163.45 819.75,164.46 820,163.96 820.25,164.88 820.5,164.88 820.75,165.34 821,164.93 821.26,156.32 821.52,148.05 821.78,140.95 822.04,137.16 822.3,135.54 822.56,136.59 822.82,139.83 823.08,142.8 823.34,147.03 823.61,150.62 823.87,153.19 824.13,154.84 824.39,156.62 824.65,158.16 824.91,159.81 825.17,160.15 825.43,161.06 825.69,161.27 825.96,162.47 826.22,163.35 826.48,163.82 826.74,162.8 827,164.39 827.26,161.05 827.52,157.1 827.77,152.5 828.03,149.48 828.29,146.38 828.55,142.9 828.81,139.06 829.07,135.81 829.33,133.53 829.58,129.57 829.84,127.96 830.1,124.69 830.36,122.33 830.62,119.31 830.88,117.51 831.13,116.15 831.39,113.5 831.65,113.53 831.91,110.74 832.17,109.77 832.43,109.49 832.68,109.08 832.94,108.84 833.2,108.24 833.45,108.46 833.7,108.89 833.95,109.45 834.2,109.53 834.45,112.25 834.7,113.33 834.96,114.87 835.21,116.29 835.46,118.59 835.71,120.54 835.96,122.7 836.21,125.52 836.46,126.7 836.71,130.04 836.96,132.03 837.21,134.97 837.46,138.06 837.71,138.12 837.96,139.68 838.21,140.57 838.47,142.28 838.72,142.46 838.97,143.13 839.22,145.02 839.47,145.54 839.72,146.42 839.97,147.86 840.22,147.81 840.47,148.81 840.72,149.77 840.97,150.6 841.22,150.89 841.47,152.22 841.73,153.38 841.98,152.84 842.23,154.41 842.48,153.26 842.73,155.32 842.98,155.09 843.23,155.8 843.48,156.08 843.73,156.42 843.98,156.59 844.23,157.4 844.48,158.55 844.73,158.88 844.99,158.62 845.24,158.91 845.49,159.19 845.74,159.31 845.99,160.94 846.24,160.76 846.49,160.83 846.74,160.86 846.99,160.91 847.24,162.19 847.49,162.22 847.74,161.72 847.99,162.8 848.24,162.13 848.5,163.11 848.75,162.63 849,163.07 849.25,163.66 849.5,163.83 849.75,164.26 850,163.64 850.25,160.52 850.5,156.29 850.75,151.62 851,147.82 851.25,143.38 851.5,139.87 851.75,135.74 852,132.89 852.25,129.67 852.5,127.1 852.75,124.11 853,121.47 853.25,118.65 853.5,116.68 853.75,114.89 854,113.69 854.25,111.63 854.5,111.99 854.75,110.49 855,110.78 855.25,111.22 855.5,111.58 855.75,113.47 856,113.98 856.25,116.26 856.5,117.91 856.75,119.24 857,121.89 857.25,124.71 857.5,126.59 857.75,129.49 858,132.04 858.25,135.21 858.5,137.17 858.75,138.65 859,140.27 859.25,141.61 859.5,142.18 859.75,143.27 860,144.56 860.25,145.03 860.5,145.62 860.75,147.43 861,147.38 861.25,148.98 861.5,148.92 861.75,150.85 862,150.29 862.25,151.77 862.5,152.67 862.75,152.2 863,153.83 863.25,153.37 863.5,153.48 863.75,155.05 864,155.5 864.25,155.56 864.5,154.98 864.75,156.45 865,156.73 865.25,157.07 865.5,157.46 865.75,157.14 866,157.99 866.25,159.31 866.5,159.49 866.75,158.95 867,159.06 867.25,159.79 867.5,160.31 867.75,160.39 868,159.79 868.25,160.57 868.5,160.76 868.76,157.74 869.01,154.08 869.27,150.27 869.53,147.11 869.79,143.03 870.04,140.58 870.3,136.57 870.56,133.89 870.81,131.23 871.07,127.73 871.33,125.28 871.59,122.49 871.84,121.19 872.1,119.19 872.36,117.4 872.61,116.33 872.87,114.01 873.13,113.99 873.39,113.37 873.64,112.82 873.9,113.14 874.15,113.75 874.4,113.34 874.66,114 874.91,115.32 875.16,117.06 875.41,118.95 875.66,120.23 875.91,123.12 876.17,124.51 876.42,127.72 876.67,130.08 876.92,132.73 877.17,136.19 877.42,137.93 877.68,139.23 877.93,140.7 878.18,142.01 878.43,142.14 878.68,143.88 878.94,144.43 879.19,145.97 879.44,147.19 879.69,147.49 879.94,148.24 880.19,149.16 880.45,148.55 880.7,150.88 880.95,151.47 881.2,151.95 881.45,152.33 881.71,152.78 881.96,153.59 882.21,154.73 882.46,154.68 882.71,155.8 882.96,154.58 883.22,155.95 883.47,156.69 883.72,156.98 883.97,156.66 884.22,157.46 884.48,158.65 884.73,157.89 884.98,158.35 885.23,158.61 885.48,159.14 885.73,159.94 885.99,160.19 886.24,159.32 886.49,161.07 886.74,160.42 886.99,160.65 887.24,161.83 887.5,161.28 887.75,160.98 888,161.42 888.25,158.06 888.5,154.61 888.75,151.61 889,148.86 889.25,145.41 889.5,141.48 889.75,140.17 890,135.5 890.25,133.02 890.5,130.11 890.75,127.66 891,124.52 891.25,122.32 891.5,120.61 891.75,117.45 892,114.79 892.25,113.4 892.5,111.06 892.75,109.55 893,108.26 893.25,106.97 893.5,105.51 893.75,104.99 894,103.71 894.25,102.58 894.5,103.05 894.75,102.24 895,102.82 895.25,102.75 895.51,105.33 895.76,108.38 896.02,111.16 896.27,116.51 896.53,122.07 896.78,129 897.04,132.85 897.29,136.7 897.55,139.2 897.8,141.17 898.06,143.3 898.31,144.69 898.57,146.63 898.82,148.33 899.08,149.88 899.33,151.35 899.59,152.2 899.84,153.12 900.1,154.23 900.35,155.62 900.61,155.61 900.86,156.6 901.12,157.72 901.37,158.34 901.63,159.1 901.88,158.65 902.14,160.19 902.39,160.72 902.65,161.62 902.9,160.84 903.17,153.71 903.43,146.19 903.7,138.34 903.97,130.79 904.23,122.88 904.5,114.11 904.77,106.99 905.03,98.71 905.3,90.65 905.58,91.25 905.87,89.89 906.15,89.38 906.43,89.16 906.72,88.55 907,88.94 907.25,85.1 907.5,81.98 907.75,77.99 908,73.98 908.25,71.14 908.5,66.84 908.75,63.36 909,59.93 909.25,58.44 909.5,57.37 909.75,55.01 910,53.85 910.25,52.11 910.5,50.01 910.75,48.5 911,47.3 911.25,48.15 911.5,48.69 911.75,49.33 912,49.72 912.25,50.08 912.5,51.03 912.75,50.99 913,51.42 913.25,52.77 913.5,53.21 913.75,54.53 914,55.34 914.25,56.34 914.5,57.48 914.75,58.07 915,59.15 915.25,59.51 915.5,61.23 915.75,61.7 916,63.18 916.25,62.52 916.5,64.15 916.75,65.36 917,64.94 917.25,66.59 917.5,67.54 917.75,68.29 918,68.35 918.25,69.85 918.5,70.56 918.75,70.83 919,72.32 919.25,72.73 919.5,73.51 919.75,74.05 920,75.24 920.25,75.59 920.5,76.59 920.75,76.85 921,76.93 921.25,77.65 921.5,78.7 921.75,78.69 922,79.57 922.25,80.18 922.5,80.42 922.75,80.04 923,81.66 923.25,82.24 923.5,82.76 923.75,82.92 924,84.33 924.25,84.29 924.5,84.63 924.75,85.14 925,86.16 925.25,85.88 925.5,86.26 925.75,87.92 926,87.97 926.25,88.21 926.5,88.69 926.75,88.71 927,88.07 927.25,89.67 927.5,90.04 927.75,90.06 928,89.35 928.25,91.09 928.5,91.49 928.75,91.04 929,91.66 929.25,92.29 929.5,92.26 929.75,93.13 930,93.04 930.25,93.55 930.5,93.54 930.75,93.11 931,93.57 931.25,95.63 931.5,94.62 931.75,95.32 932,95.5 932.25,96 932.5,95.74 932.75,95.49 933,96.01 933.25,95.41 933.5,96.42 933.75,97.15 934,96.06 934.25,97.34 934.5,97.86 934.75,98.33 935,97.6 935.25,97.97 935.5,97.68 935.75,98.31 936,99.23 936.25,100.15 936.5,99 936.75,100.35 937,100.19" fill="none" stroke="#e00a14" stroke-width="1.5" stroke-linejoin="miter"/>
<line x1="566.7" y1="23" x2="566.7" y2="217.55" stroke="#000" stroke-width="1.7" stroke-linecap="butt"/>
<line x1="560.9" y1="41" x2="566.7" y2="41" stroke="#000" stroke-width="1.7" stroke-linecap="butt"/>
<text x="556.5" y="45.1" font-size="13.2" text-anchor="end" fill="#000">1.2</text>
<line x1="560.9" y1="111.2" x2="566.7" y2="111.2" stroke="#000" stroke-width="1.7" stroke-linecap="butt"/>
<text x="556.5" y="115.3" font-size="13.2" text-anchor="end" fill="#000">1.0</text>
<line x1="560.9" y1="181.6" x2="566.7" y2="181.6" stroke="#000" stroke-width="1.7" stroke-linecap="butt"/>
<text x="556.5" y="185.7" font-size="13.2" text-anchor="end" fill="#000">0.8</text>
<line x1="565.85" y1="216.7" x2="937.8" y2="216.7" stroke="#000" stroke-width="1.7" stroke-linecap="butt"/>
<line x1="566.7" y1="216.7" x2="566.7" y2="222.7" stroke="#000" stroke-width="1.7" stroke-linecap="butt"/>
<text x="566.7" y="240" font-size="13.2" text-anchor="middle" fill="#000">0</text>
<line x1="619.7" y1="216.7" x2="619.7" y2="222.7" stroke="#000" stroke-width="1.7" stroke-linecap="butt"/>
<text x="619.7" y="240" font-size="13.2" text-anchor="middle" fill="#000">10</text>
<line x1="672.7" y1="216.7" x2="672.7" y2="222.7" stroke="#000" stroke-width="1.7" stroke-linecap="butt"/>
<text x="672.7" y="240" font-size="13.2" text-anchor="middle" fill="#000">20</text>
<line x1="725.7" y1="216.7" x2="725.7" y2="222.7" stroke="#000" stroke-width="1.7" stroke-linecap="butt"/>
<text x="725.7" y="240" font-size="13.2" text-anchor="middle" fill="#000">30</text>
<line x1="778.7" y1="216.7" x2="778.7" y2="222.7" stroke="#000" stroke-width="1.7" stroke-linecap="butt"/>
<text x="778.7" y="240" font-size="13.2" text-anchor="middle" fill="#000">40</text>
<line x1="831.7" y1="216.7" x2="831.7" y2="222.7" stroke="#000" stroke-width="1.7" stroke-linecap="butt"/>
<text x="831.7" y="240" font-size="13.2" text-anchor="middle" fill="#000">50</text>
<line x1="884.7" y1="216.7" x2="884.7" y2="222.7" stroke="#000" stroke-width="1.7" stroke-linecap="butt"/>
<text x="884.7" y="240" font-size="13.2" text-anchor="middle" fill="#000">60</text>
<line x1="937.7" y1="216.7" x2="937.7" y2="222.7" stroke="#000" stroke-width="1.7" stroke-linecap="butt"/>
<text x="937.7" y="240" font-size="13.2" text-anchor="middle" fill="#000">70</text>
<text x="752.3" y="264.6" font-size="13.7" text-anchor="middle" fill="#000">Time (min)</text>
<text x="508.8" y="120" font-size="13.7" text-anchor="middle" fill="#000" transform="rotate(-90 508.8 120)">Fluorescence ratio</text>
<text x="524.6" y="120" font-size="13.7" text-anchor="middle" fill="#000" transform="rotate(-90 524.6 120)">F350 nm/F380 nm</text>
<text x="5.5" y="305" font-size="18.5" font-weight="bold" fill="#000">c</text>
<polyline points="83.1,506.4 83.1,417.21 117.7,417.21 117.7,506.4" fill="#fff" stroke="#000" stroke-width="1.8" stroke-linejoin="miter"/>
<line x1="100.4" y1="416.31" x2="100.4" y2="412" stroke="#000" stroke-width="1.35" stroke-linecap="butt"/>
<line x1="93" y1="412" x2="107.8" y2="412" stroke="#000" stroke-width="1.35" stroke-linecap="butt"/>
<rect x="124.9" y="387.74" width="37.1" height="118.66" fill="#000" stroke="none" stroke-width="0"/>
<line x1="143.3" y1="387.74" x2="143.3" y2="380.3" stroke="#000" stroke-width="1.35" stroke-linecap="butt"/>
<line x1="136" y1="380.3" x2="150.6" y2="380.3" stroke="#000" stroke-width="1.35" stroke-linecap="butt"/>
<polyline points="180.8,506.4 180.8,421.71 216.2,421.71 216.2,506.4" fill="#fff" stroke="#ff0000" stroke-width="1.8" stroke-linejoin="miter"/>
<line x1="198.6" y1="420.81" x2="198.6" y2="414.4" stroke="#ff0000" stroke-width="1.35" stroke-linecap="butt"/>
<line x1="191.2" y1="414.4" x2="206" y2="414.4" stroke="#ff0000" stroke-width="1.35" stroke-linecap="butt"/>
<rect x="222.9" y="416.31" width="37.2" height="90.09" fill="#ff0000" stroke="none" stroke-width="0"/>
<line x1="241.5" y1="416.31" x2="241.5" y2="409.6" stroke="#ff0000" stroke-width="1.35" stroke-linecap="butt"/>
<line x1="234" y1="409.6" x2="249" y2="409.6" stroke="#ff0000" stroke-width="1.35" stroke-linecap="butt"/>
<polyline points="77.5,355.4 77.5,350.8 166.3,350.8 166.3,355.4" fill="none" stroke="#222" stroke-width="1.1" stroke-linejoin="miter"/>
<polyline points="121.8,350.8 121.8,336.4 221,336.4 221,379.3" fill="none" stroke="#222" stroke-width="1.1" stroke-linejoin="miter"/>
<polyline points="175.6,383.9 175.6,379.3 264.8,379.3 264.8,383.9" fill="none" stroke="#222" stroke-width="1.1" stroke-linejoin="miter"/>
<text x="172.25" y="333.98" font-size="15.5" text-anchor="middle" fill="#000" letter-spacing="1.3">**</text>
<text x="122.05" y="372.38" font-size="15.5" text-anchor="middle" fill="#000" letter-spacing="1.3">***</text>
<text x="219.2" y="400.6" font-size="13.7" text-anchor="middle" fill="#000">NS</text>
<line x1="72.8" y1="312.5" x2="72.8" y2="507.25" stroke="#000" stroke-width="1.7" stroke-linecap="butt"/>
<line x1="67" y1="506.4" x2="72.8" y2="506.4" stroke="#000" stroke-width="1.7" stroke-linecap="butt"/>
<text x="60.2" y="510.5" font-size="13.2" text-anchor="end" fill="#000">0.0</text>
<line x1="67" y1="480.66" x2="72.8" y2="480.66" stroke="#000" stroke-width="1.7" stroke-linecap="butt"/>
<text x="60.2" y="484.76" font-size="13.2" text-anchor="end" fill="#000">0.2</text>
<line x1="67" y1="454.92" x2="72.8" y2="454.92" stroke="#000" stroke-width="1.7" stroke-linecap="butt"/>
<text x="60.2" y="459.02" font-size="13.2" text-anchor="end" fill="#000">0.4</text>
<line x1="67" y1="429.18" x2="72.8" y2="429.18" stroke="#000" stroke-width="1.7" stroke-linecap="butt"/>
<text x="60.2" y="433.28" font-size="13.2" text-anchor="end" fill="#000">0.6</text>
<line x1="67" y1="403.44" x2="72.8" y2="403.44" stroke="#000" stroke-width="1.7" stroke-linecap="butt"/>
<text x="60.2" y="407.54" font-size="13.2" text-anchor="end" fill="#000">0.8</text>
<line x1="67" y1="377.7" x2="72.8" y2="377.7" stroke="#000" stroke-width="1.7" stroke-linecap="butt"/>
<text x="60.2" y="381.8" font-size="13.2" text-anchor="end" fill="#000">1.0</text>
<line x1="67" y1="351.96" x2="72.8" y2="351.96" stroke="#000" stroke-width="1.7" stroke-linecap="butt"/>
<text x="60.2" y="356.06" font-size="13.2" text-anchor="end" fill="#000">1.2</text>
<line x1="67" y1="326.22" x2="72.8" y2="326.22" stroke="#000" stroke-width="1.7" stroke-linecap="butt"/>
<text x="60.2" y="330.32" font-size="13.2" text-anchor="end" fill="#000">1.4</text>
<line x1="66.6" y1="506.4" x2="269.6" y2="506.4" stroke="#000" stroke-width="1.7" stroke-linecap="butt"/>
<line x1="121.8" y1="506.4" x2="121.8" y2="512.4" stroke="#000" stroke-width="1.5" stroke-linecap="butt"/>
<line x1="220.6" y1="506.4" x2="220.6" y2="512.4" stroke="#000" stroke-width="1.5" stroke-linecap="butt"/>
<text x="20.3" y="531.6" font-size="13.7" fill="#000">Stevioside</text>
<text x="104.2" y="531.6" font-size="13.2" text-anchor="middle" fill="#000">−</text>
<text x="140.1" y="531.6" font-size="13.2" text-anchor="middle" fill="#000">+</text>
<text x="203" y="531.6" font-size="13.2" text-anchor="middle" fill="#000">−</text>
<text x="239.4" y="531.6" font-size="13.2" text-anchor="middle" fill="#000">+</text>
<text x="121.5" y="553" font-size="13.7" text-anchor="middle" fill="#000">WT</text>
<text x="195" y="553" font-size="13.9" font-style="italic" fill="#000">Trpm5</text>
<text x="235.46" y="548.4" font-size="10.2" font-style="italic" fill="#000">−/−</text>
<text transform="translate(30.8 412.6) rotate(-90)" font-size="13.75" text-anchor="middle" fill="#000">Oscilation frequency (min<tspan font-size="9.5" dy="-5.5">−1</tspan><tspan dy="5.5">)</tspan></text>
<text x="313.5" y="304" font-size="18.5" font-weight="bold" fill="#000">d</text>
<ellipse cx="357.6" cy="324.9" rx="8.35" ry="7.55" fill="rgb(55,55,55)" stroke="rgb(15,15,15)" stroke-width="1.1" filter="url(#tex)"/>
<ellipse cx="384.9" cy="321.6" rx="7.35" ry="8.35" fill="rgb(69,69,69)" stroke="rgb(29,29,29)" stroke-width="1.1" filter="url(#tex)"/>
<ellipse cx="397.3" cy="312.3" rx="7.05" ry="6.15" fill="rgb(49,49,49)" stroke="rgb(9,9,9)" stroke-width="1.1" filter="url(#tex)"/>
<ellipse cx="413.8" cy="323.1" rx="5.85" ry="6.55" fill="rgb(100,100,100)" stroke="rgb(60,60,60)" stroke-width="1.1" filter="url(#tex2)"/>
<ellipse cx="399.8" cy="329.1" rx="6.75" ry="5.85" fill="rgb(69,69,69)" stroke="rgb(29,29,29)" stroke-width="1.1" filter="url(#tex)"/>
<ellipse cx="375.7" cy="336.2" rx="7.75" ry="6.75" fill="rgb(76,76,76)" stroke="rgb(36,36,36)" stroke-width="1.1" filter="url(#tex)"/>
<ellipse cx="355.6" cy="342" rx="9.75" ry="8.05" fill="rgb(55,55,55)" stroke="rgb(15,15,15)" stroke-width="1.1" filter="url(#tex)"/>
<ellipse cx="391.9" cy="342.2" rx="6.35" ry="8.05" fill="rgb(76,76,76)" stroke="rgb(36,36,36)" stroke-width="1.1" filter="url(#tex)"/>
<ellipse cx="410.8" cy="342" rx="11.05" ry="9.55" fill="rgb(55,55,55)" stroke="rgb(15,15,15)" stroke-width="1.1" filter="url(#tex)"/>
<ellipse cx="371.2" cy="349.7" rx="6.05" ry="6.55" fill="rgb(81,81,81)" stroke="rgb(41,41,41)" stroke-width="1.1" filter="url(#tex2)"/>
<ellipse cx="347.6" cy="358" rx="7.75" ry="7.55" fill="rgb(91,91,91)" stroke="rgb(51,51,51)" stroke-width="1.1" filter="url(#tex2)"/>
<ellipse cx="361.6" cy="363.1" rx="6.75" ry="6.55" fill="rgb(76,76,76)" stroke="rgb(36,36,36)" stroke-width="1.1" filter="url(#tex)"/>
<ellipse cx="381.7" cy="359.8" rx="7.05" ry="6.35" fill="rgb(79,79,79)" stroke="rgb(39,39,39)" stroke-width="1.1" filter="url(#tex)"/>
<ellipse cx="372" cy="372.3" rx="6.05" ry="5.75" fill="rgb(88,88,88)" stroke="rgb(48,48,48)" stroke-width="1.1" filter="url(#tex2)"/>
<ellipse cx="399.3" cy="369.3" rx="13.55" ry="16.85" fill="rgb(35,35,35)" stroke="rgb(0,0,0)" stroke-width="1.1" filter="url(#tex)"/>
<line x1="394.2" y1="390.9" x2="423.6" y2="390.9" stroke="#000" stroke-width="1.8" stroke-linecap="butt"/>
<text x="408.8" y="405.3" font-size="13.7" text-anchor="middle" fill="#000">50 µm</text>
<text x="314" y="420.5" font-size="18.5" font-weight="bold" fill="#000">e</text>
<ellipse cx="349.9" cy="445.6" rx="15.45" ry="15.15" fill="rgb(32,32,32)" stroke="rgb(0,0,0)" stroke-width="1.1" filter="url(#tex)"/>
<ellipse cx="375.7" cy="435.1" rx="9.55" ry="8.35" fill="rgb(79,79,79)" stroke="rgb(39,39,39)" stroke-width="1.1" filter="url(#tex)"/>
<ellipse cx="401.8" cy="434.1" rx="10.75" ry="13.15" fill="rgb(34,34,34)" stroke="rgb(0,0,0)" stroke-width="1.1" filter="url(#tex)"/>
<ellipse cx="374.7" cy="457.4" rx="9.35" ry="8.75" fill="rgb(91,91,91)" stroke="rgb(51,51,51)" stroke-width="1.1" filter="url(#tex2)"/>
<ellipse cx="396.8" cy="456.2" rx="10.75" ry="9.05" fill="rgb(81,81,81)" stroke="rgb(41,41,41)" stroke-width="1.1" filter="url(#tex2)"/>
<ellipse cx="357.3" cy="473.7" rx="8.75" ry="10.35" fill="rgb(55,55,55)" stroke="rgb(15,15,15)" stroke-width="1.1" filter="url(#tex)"/>
<ellipse cx="383.7" cy="473.4" rx="6.75" ry="7.55" fill="rgb(96,96,96)" stroke="rgb(56,56,56)" stroke-width="1.1" filter="url(#tex2)"/>
<ellipse cx="401.5" cy="472.7" rx="7.75" ry="6.35" fill="rgb(96,96,96)" stroke="rgb(56,56,56)" stroke-width="1.1" filter="url(#tex2)"/>
<ellipse cx="375.2" cy="489.1" rx="6.35" ry="6.55" fill="rgb(100,100,100)" stroke="rgb(60,60,60)" stroke-width="1.1" filter="url(#tex2)"/>
<ellipse cx="392.3" cy="490.1" rx="9.05" ry="9.55" fill="rgb(55,55,55)" stroke="rgb(15,15,15)" stroke-width="1.1" filter="url(#tex)"/>
<ellipse cx="358.3" cy="499.8" rx="10.75" ry="9.55" fill="rgb(67,67,67)" stroke="rgb(27,27,27)" stroke-width="1.1" filter="url(#tex)"/>
<line x1="391.3" y1="510.1" x2="420.9" y2="510.1" stroke="#000" stroke-width="1.8" stroke-linecap="butt"/>
<text x="405.9" y="524.6" font-size="13.7" text-anchor="middle" fill="#000">50 µm</text>
<text x="487.8" y="304.5" font-size="18.5" font-weight="bold" fill="#000">f</text>
<clipPath id="fclip"><rect x="540" y="300" width="200.9" height="220"/></clipPath>
<g clip-path="url(#fclip)"><circle cx="553.1" cy="484.4" r="7.2" fill="#fff" stroke="#000" stroke-width="1.25"/><line x1="595" y1="480.9" x2="595" y2="503.3" stroke="#000" stroke-width="1.25"/><line x1="587.8" y1="480.9" x2="602.2" y2="480.9" stroke="#000" stroke-width="1.25"/><line x1="587.8" y1="503.3" x2="602.2" y2="503.3" stroke="#000" stroke-width="1.25"/><circle cx="595" cy="491.6" r="7.2" fill="#fff" stroke="#000" stroke-width="1.25"/><line x1="623.9" y1="442.9" x2="623.9" y2="465" stroke="#000" stroke-width="1.25"/><line x1="616.7" y1="442.9" x2="631.1" y2="442.9" stroke="#000" stroke-width="1.25"/><line x1="616.7" y1="465" x2="631.1" y2="465" stroke="#000" stroke-width="1.25"/><circle cx="623.9" cy="453.4" r="7.2" fill="#fff" stroke="#000" stroke-width="1.25"/><line x1="652.6" y1="425.7" x2="652.6" y2="447.8" stroke="#000" stroke-width="1.25"/><line x1="645.4" y1="425.7" x2="659.8" y2="425.7" stroke="#000" stroke-width="1.25"/><line x1="645.4" y1="447.8" x2="659.8" y2="447.8" stroke="#000" stroke-width="1.25"/><circle cx="652.6" cy="436.2" r="7.2" fill="#fff" stroke="#000" stroke-width="1.25"/><line x1="682" y1="381.6" x2="682" y2="420.3" stroke="#000" stroke-width="1.25"/><line x1="674.8" y1="381.6" x2="689.2" y2="381.6" stroke="#000" stroke-width="1.25"/><line x1="674.8" y1="420.3" x2="689.2" y2="420.3" stroke="#000" stroke-width="1.25"/><circle cx="682" cy="400.7" r="7.2" fill="#fff" stroke="#000" stroke-width="1.25"/><line x1="710.8" y1="366.1" x2="710.8" y2="399.2" stroke="#000" stroke-width="1.25"/><line x1="703.6" y1="366.1" x2="718" y2="366.1" stroke="#000" stroke-width="1.25"/><line x1="703.6" y1="399.2" x2="718" y2="399.2" stroke="#000" stroke-width="1.25"/><circle cx="710.8" cy="382.5" r="7.2" fill="#fff" stroke="#000" stroke-width="1.25"/><line x1="740.4" y1="316.1" x2="740.4" y2="360.2" stroke="#000" stroke-width="1.25"/><line x1="733.2" y1="316.1" x2="747.6" y2="316.1" stroke="#000" stroke-width="1.25"/><line x1="733.2" y1="360.2" x2="747.6" y2="360.2" stroke="#000" stroke-width="1.25"/><circle cx="740.4" cy="338" r="7.2" fill="#fff" stroke="#000" stroke-width="1.25"/></g>
<polyline points="552.2,486.4 561.6,485.6" fill="none" stroke="#000" stroke-width="3.3"/>
<path d="M565.8,482.5 C568.27,482.1 575.83,481.02 580.6,480.1 C585.37,479.18 589.82,478.43 594.4,477 C598.98,475.57 603.53,473.92 608.1,471.5 C612.67,469.08 617.22,465.72 621.8,462.5 C626.38,459.28 631.02,455.87 635.6,452.2 C640.18,448.53 644.72,445.2 649.3,440.5 C653.88,435.8 658.52,429.48 663.1,424 C667.68,418.52 673.65,411.38 676.8,407.6 C679.95,403.82 678.28,405.63 682,401.3 C685.72,396.97 694.32,386.73 699.1,381.6 C703.88,376.47 706.3,374.28 710.7,370.5 C715.1,366.72 720.55,362.23 725.5,358.9 C730.45,355.57 737.92,351.9 740.4,350.5" fill="none" stroke="#000" stroke-width="3.3"/>
<line x1="544.4" y1="311.9" x2="544.4" y2="507.25" stroke="#000" stroke-width="1.7" stroke-linecap="butt"/>
<line x1="538.6" y1="488.9" x2="544.4" y2="488.9" stroke="#000" stroke-width="1.7" stroke-linecap="butt"/>
<text x="532" y="493" font-size="13.2" text-anchor="end" fill="#000">0.6</text>
<line x1="538.6" y1="453.88" x2="544.4" y2="453.88" stroke="#000" stroke-width="1.7" stroke-linecap="butt"/>
<text x="532" y="457.98" font-size="13.2" text-anchor="end" fill="#000">0.8</text>
<line x1="538.6" y1="418.86" x2="544.4" y2="418.86" stroke="#000" stroke-width="1.7" stroke-linecap="butt"/>
<text x="532" y="422.96" font-size="13.2" text-anchor="end" fill="#000">1.0</text>
<line x1="538.6" y1="383.84" x2="544.4" y2="383.84" stroke="#000" stroke-width="1.7" stroke-linecap="butt"/>
<text x="532" y="387.94" font-size="13.2" text-anchor="end" fill="#000">1.2</text>
<line x1="538.6" y1="348.82" x2="544.4" y2="348.82" stroke="#000" stroke-width="1.7" stroke-linecap="butt"/>
<text x="532" y="352.92" font-size="13.2" text-anchor="end" fill="#000">1.4</text>
<line x1="538.6" y1="313.8" x2="544.4" y2="313.8" stroke="#000" stroke-width="1.7" stroke-linecap="butt"/>
<text x="532" y="317.9" font-size="13.2" text-anchor="end" fill="#000">1.6</text>
<line x1="543.65" y1="506.4" x2="561.5" y2="506.4" stroke="#000" stroke-width="1.7" stroke-linecap="butt"/>
<line x1="565.5" y1="506.4" x2="741.3" y2="506.4" stroke="#000" stroke-width="1.7" stroke-linecap="butt"/>
<line x1="560.2" y1="512.4" x2="563.7" y2="501.2" stroke="#000" stroke-width="1.3" stroke-linecap="butt"/>
<line x1="563" y1="512.4" x2="566.5" y2="501.2" stroke="#000" stroke-width="1.3" stroke-linecap="butt"/>
<line x1="565.35" y1="506.4" x2="565.35" y2="512.4" stroke="#000" stroke-width="1.5" stroke-linecap="butt"/>
<line x1="574.16" y1="506.4" x2="574.16" y2="510" stroke="#000" stroke-width="1.1" stroke-linecap="butt"/>
<line x1="579.31" y1="506.4" x2="579.31" y2="510" stroke="#000" stroke-width="1.1" stroke-linecap="butt"/>
<line x1="582.96" y1="506.4" x2="582.96" y2="510" stroke="#000" stroke-width="1.1" stroke-linecap="butt"/>
<line x1="585.79" y1="506.4" x2="585.79" y2="510" stroke="#000" stroke-width="1.1" stroke-linecap="butt"/>
<line x1="588.11" y1="506.4" x2="588.11" y2="510" stroke="#000" stroke-width="1.1" stroke-linecap="butt"/>
<line x1="590.07" y1="506.4" x2="590.07" y2="510" stroke="#000" stroke-width="1.1" stroke-linecap="butt"/>
<line x1="591.77" y1="506.4" x2="591.77" y2="510" stroke="#000" stroke-width="1.1" stroke-linecap="butt"/>
<line x1="593.26" y1="506.4" x2="593.26" y2="510" stroke="#000" stroke-width="1.1" stroke-linecap="butt"/>
<line x1="594.6" y1="506.4" x2="594.6" y2="512.4" stroke="#000" stroke-width="1.5" stroke-linecap="butt"/>
<line x1="603.41" y1="506.4" x2="603.41" y2="510" stroke="#000" stroke-width="1.1" stroke-linecap="butt"/>
<line x1="608.56" y1="506.4" x2="608.56" y2="510" stroke="#000" stroke-width="1.1" stroke-linecap="butt"/>
<line x1="612.21" y1="506.4" x2="612.21" y2="510" stroke="#000" stroke-width="1.1" stroke-linecap="butt"/>
<line x1="615.04" y1="506.4" x2="615.04" y2="510" stroke="#000" stroke-width="1.1" stroke-linecap="butt"/>
<line x1="617.36" y1="506.4" x2="617.36" y2="510" stroke="#000" stroke-width="1.1" stroke-linecap="butt"/>
<line x1="619.32" y1="506.4" x2="619.32" y2="510" stroke="#000" stroke-width="1.1" stroke-linecap="butt"/>
<line x1="621.02" y1="506.4" x2="621.02" y2="510" stroke="#000" stroke-width="1.1" stroke-linecap="butt"/>
<line x1="622.51" y1="506.4" x2="622.51" y2="510" stroke="#000" stroke-width="1.1" stroke-linecap="butt"/>
<line x1="623.85" y1="506.4" x2="623.85" y2="512.4" stroke="#000" stroke-width="1.5" stroke-linecap="butt"/>
<line x1="632.66" y1="506.4" x2="632.66" y2="510" stroke="#000" stroke-width="1.1" stroke-linecap="butt"/>
<line x1="637.81" y1="506.4" x2="637.81" y2="510" stroke="#000" stroke-width="1.1" stroke-linecap="butt"/>
<line x1="641.46" y1="506.4" x2="641.46" y2="510" stroke="#000" stroke-width="1.1" stroke-linecap="butt"/>
<line x1="644.29" y1="506.4" x2="644.29" y2="510" stroke="#000" stroke-width="1.1" stroke-linecap="butt"/>
<line x1="646.61" y1="506.4" x2="646.61" y2="510" stroke="#000" stroke-width="1.1" stroke-linecap="butt"/>
<line x1="648.57" y1="506.4" x2="648.57" y2="510" stroke="#000" stroke-width="1.1" stroke-linecap="butt"/>
<line x1="650.27" y1="506.4" x2="650.27" y2="510" stroke="#000" stroke-width="1.1" stroke-linecap="butt"/>
<line x1="651.76" y1="506.4" x2="651.76" y2="510" stroke="#000" stroke-width="1.1" stroke-linecap="butt"/>
<line x1="653.1" y1="506.4" x2="653.1" y2="512.4" stroke="#000" stroke-width="1.5" stroke-linecap="butt"/>
<line x1="661.91" y1="506.4" x2="661.91" y2="510" stroke="#000" stroke-width="1.1" stroke-linecap="butt"/>
<line x1="667.06" y1="506.4" x2="667.06" y2="510" stroke="#000" stroke-width="1.1" stroke-linecap="butt"/>
<line x1="670.71" y1="506.4" x2="670.71" y2="510" stroke="#000" stroke-width="1.1" stroke-linecap="butt"/>
<line x1="673.54" y1="506.4" x2="673.54" y2="510" stroke="#000" stroke-width="1.1" stroke-linecap="butt"/>
<line x1="675.86" y1="506.4" x2="675.86" y2="510" stroke="#000" stroke-width="1.1" stroke-linecap="butt"/>
<line x1="677.82" y1="506.4" x2="677.82" y2="510" stroke="#000" stroke-width="1.1" stroke-linecap="butt"/>
<line x1="679.52" y1="506.4" x2="679.52" y2="510" stroke="#000" stroke-width="1.1" stroke-linecap="butt"/>
<line x1="681.01" y1="506.4" x2="681.01" y2="510" stroke="#000" stroke-width="1.1" stroke-linecap="butt"/>
<line x1="682.35" y1="506.4" x2="682.35" y2="512.4" stroke="#000" stroke-width="1.5" stroke-linecap="butt"/>
<line x1="691.16" y1="506.4" x2="691.16" y2="510" stroke="#000" stroke-width="1.1" stroke-linecap="butt"/>
<line x1="696.31" y1="506.4" x2="696.31" y2="510" stroke="#000" stroke-width="1.1" stroke-linecap="butt"/>
<line x1="699.96" y1="506.4" x2="699.96" y2="510" stroke="#000" stroke-width="1.1" stroke-linecap="butt"/>
<line x1="702.79" y1="506.4" x2="702.79" y2="510" stroke="#000" stroke-width="1.1" stroke-linecap="butt"/>
<line x1="705.11" y1="506.4" x2="705.11" y2="510" stroke="#000" stroke-width="1.1" stroke-linecap="butt"/>
<line x1="707.07" y1="506.4" x2="707.07" y2="510" stroke="#000" stroke-width="1.1" stroke-linecap="butt"/>
<line x1="708.77" y1="506.4" x2="708.77" y2="510" stroke="#000" stroke-width="1.1" stroke-linecap="butt"/>
<line x1="710.26" y1="506.4" x2="710.26" y2="510" stroke="#000" stroke-width="1.1" stroke-linecap="butt"/>
<line x1="711.6" y1="506.4" x2="711.6" y2="512.4" stroke="#000" stroke-width="1.5" stroke-linecap="butt"/>
<line x1="720.41" y1="506.4" x2="720.41" y2="510" stroke="#000" stroke-width="1.1" stroke-linecap="butt"/>
<line x1="725.56" y1="506.4" x2="725.56" y2="510" stroke="#000" stroke-width="1.1" stroke-linecap="butt"/>
<line x1="729.21" y1="506.4" x2="729.21" y2="510" stroke="#000" stroke-width="1.1" stroke-linecap="butt"/>
<line x1="732.04" y1="506.4" x2="732.04" y2="510" stroke="#000" stroke-width="1.1" stroke-linecap="butt"/>
<line x1="734.36" y1="506.4" x2="734.36" y2="510" stroke="#000" stroke-width="1.1" stroke-linecap="butt"/>
<line x1="736.32" y1="506.4" x2="736.32" y2="510" stroke="#000" stroke-width="1.1" stroke-linecap="butt"/>
<line x1="738.02" y1="506.4" x2="738.02" y2="510" stroke="#000" stroke-width="1.1" stroke-linecap="butt"/>
<line x1="739.51" y1="506.4" x2="739.51" y2="510" stroke="#000" stroke-width="1.1" stroke-linecap="butt"/>
<text x="554.6" y="530" font-size="12.8" text-anchor="middle" fill="#000">0</text>
<text x="593.3" y="530" font-size="12.8" text-anchor="middle" fill="#000">1E-3</text>
<text x="626" y="530" font-size="12.8" text-anchor="middle" fill="#000">0.01</text>
<text x="653.5" y="530" font-size="12.8" text-anchor="middle" fill="#000">0.1</text>
<text x="682.3" y="530" font-size="12.8" text-anchor="middle" fill="#000">1</text>
<text x="711.8" y="530" font-size="12.8" text-anchor="middle" fill="#000">10</text>
<text x="741.3" y="530" font-size="12.8" text-anchor="middle" fill="#000">100</text>
<text x="642" y="551" font-size="13.7" text-anchor="middle" fill="#000">[stevioside] (µM)</text>
<text x="640.2" y="485.9" font-size="13.7" fill="#000">EC</text>
<text x="658.7" y="490.7" font-size="10.4" fill="#000">50</text>
<text x="673.5" y="485.9" font-size="13.7" fill="#000">= 690 nM</text>
<text transform="translate(500 410.5) rotate(-90)" font-size="13.5" text-anchor="middle" fill="#000">Oscilation frequency (min<tspan font-size="9.5" dy="-5.5">−1</tspan><tspan dy="5.5">)</tspan></text>
<text x="784.5" y="304.6" font-size="18.5" font-weight="bold" fill="#000">g</text>
<polyline points="852.1,506.3 852.1,405.37 877.2,405.37 877.2,506.3" fill="#fff" stroke="#000" stroke-width="1.8" stroke-linejoin="miter"/>
<line x1="864.7" y1="404.47" x2="864.7" y2="399.4" stroke="#000" stroke-width="1.35" stroke-linecap="butt"/>
<line x1="857.8" y1="399.4" x2="871.6" y2="399.4" stroke="#000" stroke-width="1.35" stroke-linecap="butt"/>
<polyline points="897.4,506.3 897.4,404.08 923,404.08 923,506.3" fill="#fff" stroke="#ff0000" stroke-width="1.8" stroke-linejoin="miter"/>
<line x1="910.2" y1="403.18" x2="910.2" y2="400" stroke="#ff0000" stroke-width="1.35" stroke-linecap="butt"/>
<line x1="903.3" y1="400" x2="917.1" y2="400" stroke="#ff0000" stroke-width="1.35" stroke-linecap="butt"/>
<polyline points="863.6,382 863.6,377.6 910.8,377.6 910.8,382" fill="none" stroke="#222" stroke-width="1.1" stroke-linejoin="miter"/>
<text x="887.5" y="371.8" font-size="13.7" text-anchor="middle" fill="#000">NS</text>
<line x1="842.4" y1="311.4" x2="842.4" y2="507.15" stroke="#000" stroke-width="1.7" stroke-linecap="butt"/>
<line x1="836.6" y1="506.3" x2="842.4" y2="506.3" stroke="#000" stroke-width="1.7" stroke-linecap="butt"/>
<text x="829.8" y="510.4" font-size="13.2" text-anchor="end" fill="#000">0.0</text>
<line x1="836.6" y1="467.63" x2="842.4" y2="467.63" stroke="#000" stroke-width="1.7" stroke-linecap="butt"/>
<text x="829.8" y="471.73" font-size="13.2" text-anchor="end" fill="#000">0.3</text>
<line x1="836.6" y1="428.96" x2="842.4" y2="428.96" stroke="#000" stroke-width="1.7" stroke-linecap="butt"/>
<text x="829.8" y="433.06" font-size="13.2" text-anchor="end" fill="#000">0.6</text>
<line x1="836.6" y1="390.29" x2="842.4" y2="390.29" stroke="#000" stroke-width="1.7" stroke-linecap="butt"/>
<text x="829.8" y="394.39" font-size="13.2" text-anchor="end" fill="#000">0.9</text>
<line x1="836.6" y1="351.62" x2="842.4" y2="351.62" stroke="#000" stroke-width="1.7" stroke-linecap="butt"/>
<text x="829.8" y="355.72" font-size="13.2" text-anchor="end" fill="#000">1.2</text>
<line x1="836.6" y1="312.95" x2="842.4" y2="312.95" stroke="#000" stroke-width="1.7" stroke-linecap="butt"/>
<text x="829.8" y="317.05" font-size="13.2" text-anchor="end" fill="#000">1.5</text>
<line x1="835.4" y1="506.3" x2="932.9" y2="506.3" stroke="#000" stroke-width="1.7" stroke-linecap="butt"/>
<text x="864.3" y="525" font-size="13.7" text-anchor="middle" fill="#000">WT</text>
<text x="888.4" y="525" font-size="13.9" font-style="italic" fill="#000">Trpm5</text>
<text x="928.86" y="520.4" font-size="10.2" font-style="italic" fill="#000">−/−</text>
<text transform="translate(798 407.6) rotate(-90)" font-size="13.5" text-anchor="middle" fill="#000">Islet size (×10<tspan font-size="9.5" dy="-5.5">−3</tspan><tspan dy="5.5"> mm</tspan><tspan font-size="9.5" dy="-5.5">2</tspan><tspan dy="5.5">)</tspan></text>
<text x="3.5" y="589.5" font-size="18.5" font-weight="bold" fill="#000">h</text>
<rect x="257.5" y="584" width="156.3" height="199.7" fill="#f0f0f0" stroke="none" stroke-width="0"/>
<text x="335.5" y="600.9" font-size="13.7" text-anchor="middle" fill="#000">10 µM steviol</text>
<text x="82.3" y="609.5" font-size="13.2" fill="#000">WT</text>
<polyline points="73.5,758.36 73.75,759.89 74,759.27 74.25,760.73 74.5,761.56 74.75,762.08 75,761.95 75.25,762.05 75.5,761.4 75.75,761.61 76,761.68 76.25,761.4 76.5,761.32 76.75,761.13 77,761.02 77.25,760.75 77.5,761.64 77.75,760.91 78,760.39 78.25,761.06 78.5,760.96 78.75,761.01 79,761.47 79.25,760.9 79.5,760.84 79.75,760.68 80,760.88 80.25,760.74 80.5,760.92 80.75,761.75 81,760.94 81.25,760.56 81.5,761.36 81.75,761.04 82,761.01 82.25,760.97 82.5,760.98 82.75,760.93 83,761.13 83.25,760.99 83.5,761.08 83.75,760.52 84,760.66 84.25,760.43 84.5,760.91 84.75,760.86 85,760.46 85.25,760.78 85.5,761.38 85.75,760.98 86,760.29 86.25,760.6 86.5,760.82 86.75,760.62 87,760.75 87.25,760.99 87.5,760.75 87.75,760.33 88,760.87 88.25,760.64 88.5,760.7 88.75,760.51 89,760.28 89.25,760.32 89.5,760.59 89.75,760.38 90,759.91 90.25,761.04 90.5,760.37 90.75,760.5 91,760.88 91.25,760.02 91.5,761.12 91.75,760.51 92,760.93 92.25,760.6 92.5,760.84 92.75,760.79 93,760.76 93.25,760.23 93.5,760.34 93.75,760.76 94,761.19 94.25,760.63 94.5,760.95 94.75,760.84 95,760.94 95.25,761.11 95.5,760.4 95.75,760.94 96,760.83 96.25,760.81 96.5,760.67 96.75,760.71 97,760.66 97.25,760.66 97.5,761.73 97.75,761.52 98,761.04 98.25,761.28 98.5,760.79 98.75,760.29 99,760.59 99.25,761.18 99.5,761.58 99.75,761.17 100,760.91 100.25,761.15 100.5,760.95 100.75,760.85 101,761.21 101.25,761.18 101.5,761.08 101.75,761.08 102,761.09 102.25,761.45 102.5,761.81 102.75,761.36 103,762.09 103.25,760.99 103.5,761.56 103.75,761.16 104,761.47 104.25,761.57 104.5,761.72 104.75,761.91 105,761.44 105.25,761.27 105.5,761.61 105.75,761.78 106,761.52 106.25,762.02 106.5,762.29 106.75,761.41 107,761.96 107.25,762.19 107.5,761.36 107.75,762.01 108,761.92 108.25,761.6 108.5,762.43 108.75,762.15 109,761.97 109.25,762.28 109.5,762.37 109.75,762.44 110,762.41 110.25,762.39 110.5,761.96 110.75,762.22 111,762.41 111.25,761.59 111.5,763.06 111.75,762.36 112,762.19 112.25,762.03 112.5,762.7 112.75,762.7 113,762.58 113.25,762.69 113.5,762.62 113.75,762.72 114,762.97 114.25,762.87 114.5,763.32 114.75,763.15 115,763.29 115.25,763.43 115.5,763.75 115.75,763.61 116,763.57 116.25,763.51 116.5,763.39 116.75,763.59 117,763.95 117.25,763.88 117.5,763.76 117.75,763.55 118,763.55 118.25,764.14 118.5,764.38 118.75,764.23 119,763.77 119.25,764.15 119.5,764.31 119.75,764.02 120,764.43 120.25,764.32 120.5,764.17 120.75,764.1 121,764.74 121.25,764.48 121.5,763.99 121.75,763.83 122,764.26 122.25,764.05 122.5,763.66 122.75,764.09 123,763.42 123.25,763.07 123.5,763.57 123.75,763.07 124,763.1 124.25,762.64 124.5,761.96 124.75,761.53 125,761.44 125.25,761.54 125.5,760.46 125.75,760.77 126,760.06 126.26,745.66 126.52,732.25 126.78,718.93 127.05,705.69 127.31,693.31 127.57,682.98 127.83,672.62 128.09,664.42 128.35,656.46 128.62,651.22 128.88,646.84 129.14,644.12 129.4,643.63 129.7,644.08 130,644.19 130.3,644.33 130.6,645.06 130.85,649.12 131.1,654.23 131.35,658.48 131.61,662.91 131.86,666.6 132.11,670.21 132.36,673.79 132.61,677.19 132.86,680.11 133.11,684.11 133.37,686.89 133.62,689.59 133.87,692.15 134.12,695.61 134.37,697.92 134.62,699.9 134.88,702.83 135.13,705.47 135.38,707.1 135.63,709.32 135.88,711.1 136.13,712.97 136.38,715.33 136.64,717.69 136.89,718.53 137.14,720.1 137.39,721.94 137.64,723.13 137.89,724.87 138.14,726.29 138.4,727.08 138.65,728.34 138.9,729.86 139.15,731.29 139.4,732.26 139.65,733.62 139.9,733.89 140.16,735.43 140.41,736.06 140.66,737.19 140.91,738.13 141.16,738.59 141.41,739.62 141.67,740.12 141.92,741.28 142.17,741.67 142.42,742.46 142.67,743.32 142.92,743.69 143.17,744.82 143.43,744.88 143.68,745.87 143.93,746.24 144.18,746.37 144.43,747.09 144.68,747.38 144.93,747.97 145.19,748.43 145.44,749.46 145.69,749.2 145.94,750.16 146.19,750.2 146.44,750.05 146.7,750.09 146.95,751.28 147.2,750.82 147.45,751.9 147.7,752.28 147.95,752.37 148.2,752.46 148.46,752.7 148.71,753.09 148.96,753.15 149.21,753.31 149.46,753.57 149.71,754.22 149.96,753.9 150.22,754.38 150.47,754.11 150.72,754.41 150.97,754.39 151.22,754.89 151.47,755.3 151.72,755.34 151.98,755.25 152.23,755.7 152.48,755.55 152.73,755.89 152.98,755.98 153.23,756.17 153.49,755.4 153.74,755.85 153.99,756.55 154.24,756.39 154.49,757.17 154.74,756.54 154.99,756.53 155.25,757.21 155.5,757.01 155.75,757.48 156,757.15 156.25,737.76 156.5,720.16 156.75,704.37 157,692.7 157.25,685.26 157.5,682.84 157.75,688.58 158.01,693.27 158.26,698.19 158.51,702.29 158.76,706.71 159.02,709.38 159.27,713.57 159.52,716.87 159.77,719.47 160.03,722.83 160.28,725.14 160.53,727.8 160.79,729.89 161.04,731.82 161.29,733.46 161.54,734.93 161.8,736.79 162.05,738.21 162.3,739.79 162.55,740.86 162.81,743.07 163.06,742.82 163.31,744.64 163.57,745.1 163.82,746.04 164.07,747.19 164.32,747.67 164.58,748.01 164.83,749.13 165.08,749.55 165.33,749.56 165.59,750.73 165.84,750.84 166.09,751.37 166.35,752.13 166.6,752.45 166.85,752.63 167.1,753.67 167.36,753.46 167.61,753.44 167.86,753.94 168.11,754.07 168.37,753.69 168.62,754.08 168.87,754.32 169.13,755.5 169.38,755.01 169.63,755.13 169.88,755.19 170.14,755.77 170.39,755.61 170.64,756.21 170.89,756.04 171.15,756.39 171.4,755.97 171.65,754.78 171.9,753.22 172.15,751.98 172.4,750.2 172.68,751.36 172.95,752.07 173.22,752.99 173.5,754.35 173.75,753.7 174,753.6 174.25,753.12 174.5,752.77 174.78,753.14 175.05,753.02 175.32,753.78 175.6,753.81 175.87,729.44 176.13,707.3 176.4,688.13 176.67,672.3 176.93,663.7 177.2,660.24 177.5,665.75 177.8,672.08 178.05,663.26 178.3,654.41 178.6,661.05 178.9,667.63 179.2,663.01 179.5,658.25 179.76,674.9 180.01,688.06 180.27,698.64 180.52,706.32 180.78,713.15 181.03,718.45 181.29,722.75 181.54,725.76 181.8,728.44 182.06,730.37 182.31,732.56 182.57,732.6 182.82,734.24 183.08,735.76 183.33,735.75 183.59,735.66 183.84,736.62 184.1,736.49 184.35,708.12 184.6,684.14 184.85,668.38 185.1,662.33 185.36,677.08 185.61,689.2 185.87,698.81 186.13,706.56 186.39,713.38 186.64,718.91 186.9,723.16 187.16,726.67 187.41,729.72 187.67,731.82 187.93,733.94 188.19,735.84 188.44,737.09 188.7,738.3 188.96,739.59 189.21,740 189.47,740.5 189.73,740.66 189.99,741.09 190.24,741.84 190.5,741.75 190.75,742.5 191,742.44 191.25,743.16 191.5,743.48 191.75,743.16 192,742.14 192.25,741.52 192.5,741.07 192.77,741.88 193.04,743.21 193.31,743.51 193.58,744.29 193.85,745.21 194.12,746.3 194.39,747.09 194.66,748.08 194.93,748.34 195.2,750.32 195.46,735.09 195.71,719.97 195.97,705.95 196.22,693.98 196.48,683.38 196.73,673.96 196.99,668.23 197.24,663.89 197.5,663.13 197.8,661.9 198.1,660.3 198.4,658.07 198.7,665.65 199,672.26 199.27,669.9 199.53,668.14 199.8,666.44 200.06,674.42 200.31,682.19 200.56,688.94 200.82,695.65 201.08,700.29 201.33,706.36 201.59,710.21 201.84,714.85 202.09,717.79 202.35,721.3 202.61,724.38 202.86,727.47 203.12,729.18 203.37,732 203.62,733.6 203.88,735.91 204.14,737.05 204.39,738.71 204.65,739.81 204.9,741.53 205.16,741.95 205.41,742.99 205.66,744.42 205.92,744.63 206.18,745.49 206.43,745.69 206.69,746.52 206.94,746.31 207.19,747.44 207.45,747.63 207.71,747.75 207.96,748.1 208.22,749.14 208.47,749.2 208.72,748.88 208.98,750.05 209.24,749.52 209.49,749.79 209.75,750.13 210,749.87 210.25,732.14 210.5,715.47 210.75,700.43 211,686.69 211.25,674.75 211.5,667.21 211.75,661.74 212,660.14 212.35,659.26 212.7,658.62 213.05,662.96 213.4,667.74 213.7,664.8 214,661.89 214.26,672.79 214.51,681.57 214.77,690.55 215.03,697.06 215.28,703.36 215.54,709.23 215.79,713.99 216.05,718 216.31,721.5 216.56,724.78 216.82,727.46 217.07,730.76 217.33,732.94 217.59,735.09 217.84,736.39 218.1,737.82 218.36,739.25 218.61,740.44 218.87,741.09 219.12,742.14 219.38,743.43 219.64,743 219.89,743.67 220.15,744.32 220.41,745.27 220.66,745.79 220.92,745.7 221.17,746.3 221.43,746.36 221.69,746.7 221.94,746.66 222.2,746.99 222.47,724.79 222.73,704.43 223,686.97 223.27,672.17 223.53,664.28 223.8,661.2 224.07,683.51 224.33,688.97 224.6,690.23 224.87,671.83 225.13,657.86 225.4,652.71 225.65,667.33 225.91,678.8 226.16,688.06 226.42,697.11 226.67,704.08 226.92,709.26 227.18,715.41 227.43,719.27 227.68,723.63 227.94,726.29 228.19,728.98 228.45,731.06 228.7,733.41 228.95,735.44 229.21,736.37 229.46,737.23 229.72,739.42 229.97,740.21 230.22,740.62 230.48,740.9 230.73,741.25 230.98,741.58 231.24,742.61 231.49,743.15 231.75,742.75 232,743.3 232.27,719.9 232.53,698.18 232.8,679.73 233.07,665.88 233.33,656.09 233.6,653.45 233.85,668.48 234.11,680.44 234.36,690.69 234.62,698.79 234.87,706.46 235.13,711.75 235.38,716.48 235.64,720.62 235.89,723.6 236.15,726.23 236.4,728.66 236.65,731.01 236.91,732.04 237.16,733.5 237.42,733.95 237.67,734.67 237.93,736.46 238.18,736.41 238.44,736.56 238.69,737.37 238.95,737.9 239.2,737.5 239.46,714.51 239.72,693.87 239.98,676.9 240.24,666.71 240.5,663.08 240.76,673.33 241.01,682.11 241.27,690.08 241.53,696.75 241.78,702.83 242.04,708.12 242.3,712.43 242.55,716.71 242.81,720.57 243.07,722.61 243.32,725.43 243.58,727.8 243.84,729.68 244.09,731.11 244.35,732.51 244.61,734.21 244.86,735.21 245.12,736.14 245.38,736.59 245.63,737.74 245.89,738.42 246.15,738.68 246.4,739.4 246.66,740.26 246.92,739.45 247.17,740.48 247.43,740.24 247.69,740.42 247.94,740.95 248.2,741.36 248.45,719.27 248.7,698.46 248.95,680.82 249.2,667.6 249.45,659.29 249.7,656.16 249.95,666.68 250.2,676.98 250.45,684.4 250.71,691.74 250.96,697.85 251.21,703.29 251.46,708.22 251.71,712.27 251.96,716.16 252.22,718.81 252.47,721.48 252.72,724.89 252.97,726.42 253.22,728.5 253.47,730.23 253.73,731.45 253.98,732.53 254.23,733.14 254.48,734.06 254.73,735.62 254.98,736.25 255.24,736.84 255.49,736.74 255.74,737.08 255.99,737.8 256.24,738.13 256.49,738.83 256.75,738.77 257,739.77 257.25,739.34 257.5,739.54 257.76,721.19 258.01,703.22 258.27,686.88 258.53,674.03 258.79,664.31 259.04,657.16 259.3,655.33 259.56,665.93 259.81,675.18 260.07,684.26 260.32,691.6 260.58,698.09 260.84,703.55 261.09,707.77 261.35,712.68 261.61,716.28 261.86,719.46 262.12,722.4 262.38,725.5 262.63,727.44 262.89,730.06 263.14,731.35 263.4,732.17 263.66,734.32 263.91,735.59 264.17,736.25 264.43,736.78 264.68,738.44 264.94,738.23 265.19,739.19 265.45,739.19 265.71,739.84 265.96,740.12 266.22,741.29 266.48,741.63 266.73,741.44 266.99,741.41 267.24,742 267.5,742.31 267.75,729.46 268,717.57 268.25,706.49 268.5,696.21 268.75,686.64 269,678.74 269.25,671.8 269.5,666.72 269.75,664.66 270,663.33 270.26,677.13 270.52,687.94 270.77,696.91 271.03,703.54 271.29,709.79 271.55,713.87 271.81,717.62 272.06,720.54 272.32,722.97 272.58,724.64 272.84,725.5 273.09,727.02 273.35,728.71 273.61,729.07 273.87,729.71 274.13,730.17 274.38,730.24 274.64,730.55 274.9,730.81 275.16,711.53 275.42,693.43 275.68,679.66 275.94,670.18 276.2,667.45 276.47,683.95 276.73,691.87 277,696.9 277.27,698.56 277.53,699.84 277.8,700.06 278.07,691.78 278.33,684.35 278.6,677.47 278.87,672.46 279.13,669.41 279.4,668.45 279.65,683.74 279.91,696.24 280.16,705.84 280.41,713.75 280.66,719.47 280.92,723.43 281.17,727.24 281.42,729.67 281.68,732 281.93,733.56 282.18,734.72 282.44,735.93 282.69,736.27 282.94,737.46 283.19,737.73 283.45,737.88 283.7,738.39 283.98,720.91 284.27,704 284.55,690.13 284.83,679.26 285.12,672.7 285.4,669.58 285.65,683.03 285.9,693.64 286.15,702.18 286.4,708.35 286.65,713.68 286.9,717.12 287.15,720.63 287.4,723.86 287.65,725.32 287.9,727.65 288.15,728.08 288.4,729.22 288.65,729.63 288.9,730.92 289.15,731.32 289.4,732.23 289.65,732 289.9,732.13 290.15,721.44 290.4,711.75 290.65,702.47 290.9,693.57 291.15,685.82 291.4,678.98 291.65,673.29 291.9,669.51 292.15,666.96 292.4,665.71 292.66,678.2 292.92,687.53 293.17,695.27 293.43,702.55 293.69,708.28 293.95,713.32 294.21,717.51 294.47,719.58 294.73,723.5 294.98,726.19 295.24,727.47 295.5,728.89 295.76,730.95 296.02,732.15 296.27,733.16 296.53,733.56 296.79,734.46 297.05,735.25 297.31,735.91 297.57,736.75 297.83,736.54 298.08,736.57 298.34,736.29 298.6,737.52 298.85,726.32 299.1,715.75 299.35,705.44 299.6,696.68 299.85,687.66 300.1,681.17 300.35,675.49 300.6,671.38 300.85,669.14 301.1,667.87 301.35,681.02 301.6,691.87 301.85,699.75 302.1,707.1 302.35,712.86 302.6,717.71 302.85,720.9 303.1,724.39 303.35,726.71 303.6,728.13 303.85,729.73 304.1,731.05 304.35,732.57 304.6,733.44 304.85,734.29 305.1,734.88 305.35,734.93 305.6,735.78 305.85,736 306.1,736.14 306.35,726.8 306.6,717.09 306.85,708.71 307.1,699.89 307.35,692.06 307.6,685.27 307.85,679.24 308.1,673.98 308.35,669.75 308.6,666.54 308.85,665.07 309.1,664.18 309.35,682.98 309.61,697.19 309.86,707.55 310.12,714.21 310.37,719.23 310.62,723.74 310.88,726.57 311.13,727.95 311.38,729.41 311.64,730.57 311.89,732.14 312.15,731.85 312.4,732.5 312.65,722.77 312.9,712.78 313.15,704.13 313.4,695.92 313.65,689.13 313.9,682.8 314.15,678.29 314.4,674.01 314.65,671.94 314.9,671.12 315.15,683.37 315.4,693.94 315.65,701.36 315.9,708.23 316.15,713.46 316.4,717.17 316.65,721.03 316.9,723.52 317.15,725.95 317.4,727.81 317.65,729.27 317.9,730.33 318.15,731.92 318.4,732.18 318.65,733.11 318.9,733.93 319.15,734.04 319.4,734.5 319.65,734.89 319.9,735.03 320.17,719.79 320.44,704.2 320.71,692.08 320.99,680.53 321.26,671.74 321.53,666.95 321.8,664.98 322.05,678.06 322.3,688.09 322.55,696.88 322.8,704.42 323.05,710.28 323.3,714.87 323.55,719.07 323.8,722.44 324.05,725.24 324.3,727.49 324.55,729.3 324.8,731.18 325.05,731.72 325.3,733.11 325.55,734.17 325.8,734.74 326.05,735.29 326.3,735.82 326.55,736.42 326.8,737.06 327.05,736.91 327.3,737.12 327.55,724.18 327.8,711.37 328.05,699.23 328.3,689.69 328.55,681.13 328.8,674.85 329.05,671.38 329.3,669.91 329.58,687.67 329.87,696.09 330.15,700.66 330.43,703.37 330.72,704.42 331,705.13 331.26,699.57 331.52,694.06 331.79,688.95 332.05,684.73 332.31,681.51 332.58,678.6 332.84,677.57 333.1,676.4 333.36,691.01 333.62,702.82 333.89,711.07 334.15,718.8 334.41,723.17 334.68,727.42 334.94,730.42 335.2,732.59 335.46,734.11 335.73,735.47 335.99,737.36 336.25,738.23 336.51,739.2 336.78,738.6 337.04,739.58 337.3,739.7 337.55,733.17 337.8,726.04 338.05,719.78 338.3,713.36 338.55,707 338.8,701.23 339.05,695.02 339.3,690.15 339.55,684.48 339.8,680.6 340.05,675.15 340.3,672.33 340.55,668.95 340.8,666.59 341.05,664.86 341.3,663.3 341.55,662.22 341.8,662.41 342.06,678.83 342.32,692.38 342.59,703.35 342.85,710.9 343.11,716.26 343.38,721.66 343.64,724.8 343.9,728.36 344.16,730.39 344.43,731.51 344.69,733.32 344.95,733.65 345.21,734.92 345.48,735.39 345.74,735.62 346,735.57 346.25,729.47 346.51,722.48 346.76,716.76 347.01,710.35 347.27,705.51 347.52,699.44 347.77,693.99 348.03,690.32 348.28,686.19 348.53,682.41 348.79,680.27 349.04,677.55 349.29,675.67 349.55,674.44 349.8,673.41 350.05,695.47 350.3,709.44 350.55,718.05 350.8,723.77 351.05,728.1 351.3,730.18 351.55,732.38 351.8,733.72 352.05,734.67 352.3,734.78 352.55,722.59 352.8,711.05 353.05,700.45 353.3,690.48 353.55,682.45 353.8,676.81 354.05,673.12 354.3,672.03 354.55,682.62 354.8,691.32 355.05,698.33 355.3,704.15 355.55,708.84 355.8,713.07 356.05,716.5 356.3,719.18 356.55,721.65 356.8,722.97 357.05,724.52 357.3,726.37 357.55,726.97 357.8,727.9 358.05,728.39 358.3,729.37 358.55,729.45 358.8,729.67 359.05,730.29 359.3,730.45 359.55,731.06 359.8,730.89 360.05,718.73 360.3,706.79 360.55,696.05 360.8,686.19 361.05,678.87 361.3,672.28 361.55,669 361.8,667.69 362.05,680.76 362.3,691.05 362.55,699.83 362.8,706.73 363.05,712.51 363.3,717.27 363.55,721.54 363.8,724.81 364.05,727.8 364.3,730.1 364.55,732.16 364.8,733.39 365.05,734.48 365.3,735.44 365.55,736.65 365.8,737.46 366.05,738.54 366.3,738.5 366.55,739.38 366.8,739.75 367.05,739.16 367.3,740.06 367.57,726.16 367.84,713.03 368.11,700.79 368.39,691.2 368.66,683.34 368.93,678.84 369.2,677.31 369.45,694.29 369.7,705.29 369.95,713.82 370.2,719.31 370.45,723.14 370.7,726.28 370.95,728.42 371.2,729.43 371.45,730.84 371.7,731.14 371.95,731.59 372.2,732.27 372.45,720.07 372.7,708.26 372.95,697.38 373.2,688.51 373.45,680.89 373.7,674.97 373.95,671.64 374.2,669.94 374.47,685.51 374.73,689.21 375,690.08 375.25,682.12 375.5,675.81 375.75,671.47 376,670.22 376.26,687.03 376.53,699.66 376.79,708.72 377.06,716.13 377.32,721.36 377.59,724.66 377.85,727.82 378.11,729.81 378.38,731.25 378.64,732.03 378.91,733.79 379.17,733.33 379.44,734.45 379.7,734.59 379.95,725.99 380.2,716.68 380.45,708.43 380.7,700.85 380.95,693.9 381.2,687.7 381.45,683.31 381.7,679.75 381.95,677.81 382.2,676.65 382.46,690.17 382.72,695.85 382.98,698.21 383.24,699.61 383.5,700.12 383.76,693.41 384.02,686.56 384.28,681.75 384.54,678.75 384.8,677.27 385.07,697.16 385.33,709.62 385.6,717.17 385.87,721.98 386.13,725.67 386.4,727.31 386.67,728.45 386.93,728.85 387.2,729.74 387.45,720.77 387.7,711.03 387.95,702.51 388.2,695.18 388.45,688.2 388.7,682.19 388.95,676.7 389.2,673.48 389.45,670.91 389.7,670.56 389.95,683.39 390.2,694.17 390.45,703.12 390.7,709.79 390.95,715.27 391.2,719.94 391.45,723.72 391.7,726.5 391.95,729.15 392.2,731.25 392.45,733.14 392.7,733.36 392.95,734.67 393.2,735.51 393.45,736.84 393.7,737.86 393.95,737.65 394.2,738 394.45,738.6 394.7,737.77 394.95,726.9 395.2,714.92 395.45,705.66 395.7,696.49 395.95,689.13 396.2,683.91 396.45,680.26 396.7,679.63 396.96,692.59 397.22,702.92 397.49,711.43 397.75,716.59 398.01,721.65 398.27,724.7 398.54,728.07 398.8,730.1 399.06,731.48 399.32,732.99 399.59,734.14 399.85,734.81 400.11,734.97 400.38,735.39 400.64,736.07 400.9,735.56 401.16,717.68 401.42,701.64 401.68,688.68 401.94,680.73 402.2,677.82 402.45,689.17 402.7,698.74 402.95,705.95 403.2,712.55 403.45,717.77 403.7,721.74 403.95,725.16 404.2,728.03 404.45,729.76 404.7,731.65 404.95,732.74 405.2,734.77 405.45,735.07 405.7,735.64 405.95,737 406.2,737.21 406.45,737.97 406.7,737.9 406.95,738.91 407.2,738.71 407.45,726.02 407.7,713.97 407.95,702.77 408.2,693.34 408.45,685.71 408.7,679.06 408.95,675.21 409.2,674.48 409.45,686.96 409.7,696.21 409.95,704.56 410.2,711.04 410.45,716.84 410.7,721.14 410.95,724.27 411.2,727 411.45,729.83 411.7,730.89 411.95,733.2 412.2,734.19 412.45,735.8 412.7,736.33 412.95,736.51 413.2,737.13 413.45,737.56 413.7,737.77 413.95,738.3 414.2,738.79 414.46,718.34 414.72,699.5 414.98,681.74 415.24,664.66 415.5,649.16 415.76,636.33 416.02,625.98 416.28,618.19 416.54,614.39 416.8,612.52 417.08,612.59 417.36,612.68 417.64,613.29 417.92,613.55 418.2,614.51 418.46,615.29 418.71,616.89 418.97,618.6 419.23,619.91 419.49,621.09 419.74,621.93 420,624.41 420.25,625.68 420.5,626.87 420.75,628.47 421,629.72 421.25,631.23 421.5,632.56 421.75,634.65 422,636.15 422.26,636.69 422.52,637.51 422.78,638.08 423.04,638.6 423.3,638.94 423.56,640.01 423.82,640.83 424.08,641.31 424.34,642.13 424.6,642.26 424.87,642.62 425.13,643.79 425.4,643.76 425.67,644.52 425.93,644.9 426.2,645.47 426.47,645.9 426.73,646.33 427,646.47 427.26,647.85 427.52,647.64 427.78,647.3 428.04,647.89 428.3,648.12 428.56,648.52 428.82,648.28 429.08,649.49 429.34,650.09 429.6,649.83 429.86,650.42 430.12,650.68 430.38,650.43 430.64,651.46 430.89,650.9 431.15,651.53 431.41,651.89 431.67,652.67 431.93,652.63 432.19,652.86 432.45,652.96 432.71,653.53 432.96,653.81 433.22,654.31 433.48,654.81 433.74,654.92 434,655.01 434.25,655.24 434.51,656.05 434.76,655.92 435.01,656.15 435.26,656.97 435.52,657.19 435.77,657.18 436.02,657.27 436.28,657.41 436.53,658.2 436.78,658.04 437.04,658.74 437.29,658.52 437.54,659.07 437.79,659.44 438.05,659.65 438.3,659.97 438.58,660.11 438.87,659.77 439.15,659.87 439.43,660.26 439.72,660.93 440,660.46 440.26,660.05 440.52,659.96 440.79,659.98 441.05,660.15 441.31,659.46 441.58,659.61 441.84,659.33 442.1,659" fill="none" stroke="#000" stroke-width="1.4" stroke-linejoin="miter"/>
<line x1="72.8" y1="591" x2="72.8" y2="784.55" stroke="#000" stroke-width="1.7" stroke-linecap="butt"/>
<line x1="67" y1="613.5" x2="72.8" y2="613.5" stroke="#000" stroke-width="1.7" stroke-linecap="butt"/>
<text x="59.9" y="617.6" font-size="13.2" text-anchor="end" fill="#000">1.4</text>
<line x1="67" y1="659" x2="72.8" y2="659" stroke="#000" stroke-width="1.7" stroke-linecap="butt"/>
<text x="59.9" y="663.1" font-size="13.2" text-anchor="end" fill="#000">1.2</text>
<line x1="67" y1="704.4" x2="72.8" y2="704.4" stroke="#000" stroke-width="1.7" stroke-linecap="butt"/>
<text x="59.9" y="708.5" font-size="13.2" text-anchor="end" fill="#000">1.0</text>
<line x1="67" y1="749.8" x2="72.8" y2="749.8" stroke="#000" stroke-width="1.7" stroke-linecap="butt"/>
<text x="59.9" y="753.9" font-size="13.2" text-anchor="end" fill="#000">0.8</text>
<line x1="71.95" y1="783.7" x2="443.8" y2="783.7" stroke="#000" stroke-width="1.7" stroke-linecap="butt"/>
<line x1="72.8" y1="783.7" x2="72.8" y2="789.7" stroke="#000" stroke-width="1.7" stroke-linecap="butt"/>
<text x="72.8" y="810" font-size="13.2" text-anchor="middle" fill="#000">0</text>
<line x1="125.8" y1="783.7" x2="125.8" y2="789.7" stroke="#000" stroke-width="1.7" stroke-linecap="butt"/>
<text x="125.8" y="810" font-size="13.2" text-anchor="middle" fill="#000">10</text>
<line x1="178.8" y1="783.7" x2="178.8" y2="789.7" stroke="#000" stroke-width="1.7" stroke-linecap="butt"/>
<text x="178.8" y="810" font-size="13.2" text-anchor="middle" fill="#000">20</text>
<line x1="231.8" y1="783.7" x2="231.8" y2="789.7" stroke="#000" stroke-width="1.7" stroke-linecap="butt"/>
<text x="231.8" y="810" font-size="13.2" text-anchor="middle" fill="#000">30</text>
<line x1="284.8" y1="783.7" x2="284.8" y2="789.7" stroke="#000" stroke-width="1.7" stroke-linecap="butt"/>
<text x="284.8" y="810" font-size="13.2" text-anchor="middle" fill="#000">40</text>
<line x1="337.8" y1="783.7" x2="337.8" y2="789.7" stroke="#000" stroke-width="1.7" stroke-linecap="butt"/>
<text x="337.8" y="810" font-size="13.2" text-anchor="middle" fill="#000">50</text>
<line x1="390.8" y1="783.7" x2="390.8" y2="789.7" stroke="#000" stroke-width="1.7" stroke-linecap="butt"/>
<text x="390.8" y="810" font-size="13.2" text-anchor="middle" fill="#000">60</text>
<line x1="443.8" y1="783.7" x2="443.8" y2="789.7" stroke="#000" stroke-width="1.7" stroke-linecap="butt"/>
<text x="443.8" y="810" font-size="13.2" text-anchor="middle" fill="#000">70</text>
<text x="258.3" y="836" font-size="13.7" text-anchor="middle" fill="#000">Time (min)</text>
<text x="13.8" y="687" font-size="13.7" text-anchor="middle" fill="#000" transform="rotate(-90 13.8 687)">Fluorescence ratio</text>
<text x="29.3" y="687" font-size="13.7" text-anchor="middle" fill="#000" transform="rotate(-90 29.3 687)">F350 nm/F380 nm</text>
<text x="486" y="589.5" font-size="18.5" font-weight="bold" fill="#000">i</text>
<rect x="749.7" y="584" width="165.5" height="201" fill="#f0f0f0" stroke="none" stroke-width="0"/>
<text x="832" y="600.9" font-size="13.7" text-anchor="middle" fill="#000">10 µM steviol</text>
<text x="570.5" y="609.5" font-size="13.9" font-style="italic" fill="#000">Trpm5</text>
<text x="610.96" y="604.9" font-size="10.2" font-style="italic" fill="#000">−/−</text>
<polyline points="565.5,728.88 565.83,730.9 566.17,731.59 566.5,734.08 566.83,733.08 567.17,737.15 567.5,738.04 567.82,738.2 568.14,739.44 568.45,738.9 568.77,736.98 569.09,739.03 569.41,739.76 569.73,738.99 570.05,738.89 570.36,740.75 570.68,741.16 571,740.58 571.31,741.15 571.62,741.27 571.92,741.6 572.23,742.48 572.54,743.97 572.85,741.74 573.15,743.36 573.46,745.65 573.77,744.77 574.08,745 574.38,746.05 574.69,744.64 575,744.82 575.31,744.57 575.62,744.95 575.94,746.81 576.25,747.58 576.56,746.53 576.88,746.46 577.19,747.71 577.5,748.1 577.81,747.94 578.12,746.02 578.44,747.53 578.75,745.78 579.06,748.67 579.38,747.8 579.69,748.17 580,750.46 580.31,750.49 580.62,749.87 580.94,749.87 581.25,749.97 581.56,749.43 581.88,750.15 582.19,752.26 582.5,749.75 582.81,750.16 583.12,751.16 583.44,752.07 583.75,752.21 584.06,750.66 584.38,751.67 584.69,751.74 585,751 585.31,752.42 585.62,752.02 585.94,753.53 586.25,753.2 586.56,752.16 586.88,753.14 587.19,752.86 587.5,752.73 587.81,753.02 588.12,754.67 588.44,753.38 588.75,752.26 589.06,753.32 589.38,755 589.69,756.45 590,753.48 590.31,754.35 590.62,754.58 590.93,753.73 591.24,755.69 591.55,755.45 591.86,755.97 592.17,758.08 592.48,755.84 592.79,757.07 593.1,757.31 593.41,756.08 593.72,756.32 594.03,758.61 594.34,758 594.65,757.64 594.96,756.64 595.27,758.76 595.58,758.61 595.89,760.44 596.2,759.93 596.52,759.16 596.83,758.51 597.15,758.19 597.47,757.46 597.78,758.18 598.1,757.99 598.42,758.26 598.73,758.56 599.05,757.68 599.37,756.72 599.68,757.91 600,758.51 600.3,755.9 600.6,756.83 600.9,756.66 601.2,756.35 601.5,756.03 601.8,755.16 602.1,754.86 602.4,756.31 602.7,756.06 603,752.72 603.3,751.33 603.6,753.93 603.94,752.14 604.28,751.6 604.62,749.85 604.96,751.04 605.3,749.95 605.61,737.98 605.91,728 606.22,718.37 606.53,706.69 606.83,696.14 607.14,684.94 607.45,677.04 607.75,668.22 608.06,662.13 608.37,655.3 608.67,649.48 608.98,645.92 609.29,641.71 609.59,641.37 609.9,641.46 610.2,639.83 610.51,641.26 610.81,639.97 611.11,643.67 611.42,645.09 611.72,645 612.03,649.7 612.33,650.37 612.63,651.05 612.94,654.09 613.24,659.16 613.54,661.1 613.85,665.66 614.15,666.46 614.45,671.38 614.76,676.06 615.06,678.19 615.37,683.34 615.67,686.25 615.97,690.92 616.28,693.84 616.58,697.52 616.88,695.91 617.19,699.58 617.49,701.77 617.8,701.02 618.1,703.76 618.4,707.45 618.71,707.71 619.01,705.25 619.31,709.29 619.62,709.22 619.92,712.49 620.22,712.77 620.53,714.18 620.83,715.12 621.14,717.39 621.44,717.79 621.74,718.47 622.05,720.2 622.35,721.86 622.65,721.65 622.96,724.54 623.26,722.8 623.56,725.74 623.87,725.87 624.17,728.65 624.48,727.34 624.78,728.15 625.08,728.29 625.39,732.3 625.69,731.73 625.99,730.81 626.3,732.25 626.6,732.34 626.9,735.42 627.21,735 627.51,733.25 627.82,736.05 628.12,737.33 628.42,737.02 628.73,738.05 629.03,738.03 629.33,738.87 629.64,739.39 629.94,739 630.25,740.51 630.55,740.8 630.85,741.07 631.16,740.89 631.46,741 631.76,742.64 632.07,743.62 632.37,740.86 632.67,743.08 632.98,745.29 633.28,745.22 633.59,743.99 633.89,746.34 634.19,744.4 634.5,744.92 634.8,747.89 635.11,745.55 635.41,745.73 635.72,744.31 636.02,744.9 636.33,744.71 636.64,745.69 636.94,744.01 637.25,746.8 637.55,745.39 637.86,745.12 638.16,745.06 638.47,746.37 638.78,747.11 639.08,745.19 639.39,747.13 639.69,747.1 640,746.8 640.31,745.8 640.62,744.06 640.94,746.17 641.25,745.13 641.56,745.72 641.88,743.7 642.19,745.27 642.5,745.78 642.81,744.64 643.12,745.85 643.44,747.2 643.75,745.8 644.06,744.91 644.38,747.91 644.69,743.5 645,744.71 645.3,745.94 645.6,744.92 645.9,743.21 646.2,745.64 646.5,746.14 646.8,744.51 647.1,746.65 647.4,745.66 647.7,746.28 648,743.58 648.3,745.01 648.6,746.52 648.9,746.87 649.2,746.14 649.5,744.8 649.83,733.86 650.16,722.22 650.49,713.59 650.82,702.33 651.15,694.65 651.48,685.27 651.81,679.98 652.14,678.91 652.47,674.63 652.8,673.91 653.1,671.75 653.4,674.43 653.7,677.38 654,675.14 654.3,675.8 654.6,679.75 654.9,681.43 655.2,684.01 655.5,685.47 655.8,688.03 656.1,690.97 656.4,695.77 656.7,698.2 657,702.25 657.3,703.7 657.6,708.7 657.9,709.72 658.2,711.75 658.5,714.03 658.8,714.56 659.1,715.54 659.4,715.56 659.7,718.51 660,720.43 660.3,720.21 660.6,721.89 660.9,721.31 661.2,722.78 661.5,725.49 661.8,727.33 662.1,726.7 662.4,726.27 662.7,728.4 663,728.08 663.3,730.15 663.6,733.09 663.9,732.24 664.2,732.52 664.5,734.38 664.8,733.67 665.1,735.01 665.4,735.51 665.7,736.35 666,735.05 666.3,737.74 666.6,738.45 666.9,735.87 667.2,735.95 667.5,738.21 667.8,741.01 668.1,740.02 668.4,741.1 668.7,741.39 669,742.12 669.3,741.01 669.6,741.43 669.9,742.73 670.2,743.31 670.5,743.6 670.8,743.7 671.1,743.19 671.4,745.05 671.7,744.72 672,745.58 672.3,742.3 672.61,736.01 672.93,722.95 673.24,716.14 673.56,706.23 673.87,698.42 674.19,689.84 674.5,682.69 674.81,676.66 675.13,671.14 675.44,665.27 675.76,659.81 676.07,658.82 676.39,658.48 676.7,656.57 677,658.1 677.3,658.11 677.6,658.82 677.9,662.63 678.2,665.25 678.5,666.02 678.8,668.91 679.1,673.05 679.4,674.22 679.7,678.33 680,684.18 680.3,688.01 680.6,690.85 680.9,694.91 681.2,700.47 681.5,700.77 681.8,703.63 682.1,705.77 682.4,705.38 682.7,710.13 683,711.97 683.3,713.87 683.6,712.93 683.9,714.56 684.2,716.45 684.5,717.33 684.8,721.97 685.1,720.23 685.4,722.1 685.7,723.77 686,725.14 686.3,727.2 686.6,725.72 686.9,728.66 687.2,728.89 687.5,728.49 687.8,730.68 688.1,729.99 688.4,733.8 688.7,732.25 689,734.72 689.3,735.73 689.6,734.52 689.9,734.91 690.2,736.57 690.5,736.01 690.8,738.53 691.1,738.38 691.4,737.99 691.7,738.59 692,740.5 692.3,738.82 692.6,742.4 692.9,740.39 693.2,741.4 693.5,741.09 693.8,744.02 694.1,743.6 694.4,744.44 694.7,744.15 695.02,732.97 695.35,724.1 695.67,712.92 695.99,702.99 696.32,694.03 696.64,685.81 696.96,677.83 697.28,670.83 697.61,663.9 697.93,663.17 698.25,656.67 698.58,653.9 698.9,654.69 699.2,657.74 699.5,658.24 699.81,658.34 700.11,661.75 700.41,664.59 700.71,666.26 701.01,671.98 701.32,677.05 701.62,682.7 701.92,685.38 702.22,689.6 702.52,695.71 702.83,700.09 703.13,702.21 703.43,704.52 703.73,706.66 704.04,708.18 704.34,709.12 704.64,712.78 704.94,714.46 705.24,716.32 705.55,718.57 705.85,717.59 706.15,717.93 706.45,719.85 706.75,725.06 707.06,723.25 707.36,725.73 707.66,726.43 707.96,728.24 708.26,731.73 708.57,728.96 708.87,730.22 709.17,730.67 709.47,732.34 709.77,733.4 710.08,732.66 710.38,735.65 710.68,736.16 710.98,736.1 711.29,736.16 711.59,736.62 711.89,735.77 712.19,738.59 712.49,737.46 712.8,738.41 713.1,740.36 713.4,738.88 713.7,732.44 714,727.15 714.3,721.82 714.6,713.42 714.9,710 715.2,703.79 715.5,701.25 715.8,698.72 716.1,695.5 716.4,697.13 716.7,698.55 717.01,698.6 717.31,701.58 717.61,703.66 717.92,710.74 718.22,713.58 718.53,716.43 718.83,720.59 719.13,720.32 719.44,722.87 719.74,723.06 720.04,728.06 720.35,730.26 720.65,728.66 720.96,729.79 721.26,730.91 721.56,731.88 721.87,733.87 722.17,735.57 722.47,733.84 722.78,735.96 723.08,734.33 723.39,738.22 723.69,737.12 723.99,736.98 724.3,739.64 724.6,738.39 724.91,733.71 725.23,727.29 725.55,721.83 725.86,713.44 726.17,708.52 726.49,703.23 726.81,697.29 727.12,693.88 727.43,686.8 727.75,683.99 728.07,680.17 728.38,673.04 728.69,670.6 729.01,667.65 729.33,665.43 729.64,664.23 729.95,662 730.27,661.05 730.59,659.78 730.9,659.92 731.2,660.81 731.51,662 731.81,661.96 732.11,664.62 732.42,666.44 732.72,669.9 733.03,671.89 733.33,677.87 733.63,681.46 733.94,684.8 734.24,688.59 734.54,693.35 734.85,697.82 735.15,701.09 735.45,706.43 735.76,710.15 736.06,707.62 736.37,709.57 736.67,713.14 736.97,714.9 737.28,714.39 737.58,715.63 737.88,719.62 738.19,718.54 738.49,723.36 738.79,722.78 739.1,724.64 739.4,725.77 739.71,726.39 740.01,727.93 740.31,728.85 740.62,731.42 740.92,731.07 741.22,732.08 741.53,732.48 741.83,733.24 742.13,733.97 742.44,735.51 742.74,738.09 743.05,738.1 743.35,737.91 743.65,740.01 743.96,739.99 744.26,739.8 744.56,740.01 744.87,739.63 745.17,741.51 745.47,741.46 745.78,740.68 746.08,741.45 746.39,745.12 746.69,743.83 746.99,744.53 747.3,744.62 747.6,744.34 747.9,737.48 748.2,730.41 748.5,721.5 748.8,715.05 749.1,708.63 749.4,700.59 749.7,695.19 750,688.77 750.3,685.21 750.6,680 750.9,677.98 751.2,673.28 751.5,673.71 751.8,670.5 752.1,669.56 752.4,670.14 752.71,673.54 753.01,674.87 753.31,681.24 753.61,685.16 753.92,689.43 754.22,693 754.52,700.25 754.83,703.96 755.13,705.51 755.43,710.2 755.74,714.26 756.04,713.65 756.34,716.98 756.64,719.31 756.95,718.79 757.25,721.01 757.55,723.12 757.86,724.72 758.16,724.4 758.46,726.97 758.76,727.78 759.07,729.89 759.37,728.32 759.67,730.26 759.98,731.18 760.28,732.16 760.58,733.93 760.89,733.27 761.19,737.28 761.49,734.43 761.79,736.54 762.1,737.24 762.4,737.66 762.72,728.52 763.03,720.06 763.35,713.06 763.67,706.82 763.98,699.63 764.3,694.08 764.62,688.8 764.93,682.9 765.25,679.32 765.57,679.12 765.88,675.64 766.2,674.02 766.51,677.84 766.81,676.23 767.12,677.86 767.43,682.05 767.73,682.75 768.04,686.24 768.35,691.77 768.65,693.84 768.96,701.37 769.27,703.38 769.57,710.56 769.88,710.77 770.19,712.72 770.49,713.95 770.8,716.2 771.11,717.65 771.41,719.76 771.72,722.11 772.03,721.55 772.33,723.3 772.64,723.45 772.95,728.3 773.25,727.91 773.56,729.1 773.87,730.13 774.17,732.2 774.48,732.48 774.79,733.92 775.09,733.77 775.4,734.64 775.71,735.48 776.01,734.41 776.32,738.06 776.63,736.06 776.93,737.27 777.24,739.53 777.55,739.48 777.85,740.77 778.16,742.17 778.47,742.81 778.77,742.78 779.08,741.61 779.39,744.29 779.69,741.75 780,742.91 780.32,734.75 780.64,724.52 780.96,716.05 781.28,707.91 781.6,702.57 781.92,692.72 782.24,691.61 782.56,687.85 782.88,684.56 783.2,684.46 783.51,683.45 783.81,686.99 784.12,691.22 784.42,690.22 784.73,696.11 785.03,698.72 785.34,702.89 785.65,707.49 785.95,712.07 786.26,713.21 786.56,715.16 786.87,720.1 787.17,720.21 787.48,722.46 787.79,723.78 788.09,725.4 788.4,724.76 788.7,726.61 789.01,729.38 789.31,730.86 789.62,729.75 789.93,731.28 790.23,731.7 790.54,734.26 790.84,734.74 791.15,735.16 791.45,735.17 791.76,736.8 792.07,737.09 792.37,736.87 792.68,738.47 792.98,737.96 793.29,740.03 793.59,740.13 793.9,739.21 794.2,732.22 794.5,723.6 794.8,715.06 795.1,707.57 795.4,700.19 795.7,694.86 796,691.37 796.3,688.26 796.6,683.53 796.9,682.55 797.2,682.14 797.51,683.11 797.82,684.26 798.13,687.36 798.43,689.94 798.74,692.05 799.05,697.34 799.36,699.13 799.67,706.13 799.98,710.69 800.29,713.49 800.59,714.7 800.9,717.79 801.21,720.1 801.52,719.65 801.83,721.53 802.14,723.82 802.45,725.44 802.75,726.39 803.06,728.28 803.37,727.4 803.68,730.41 803.99,731.79 804.3,732.65 804.61,732.82 804.91,732.96 805.22,734.35 805.53,734.57 805.84,733.71 806.15,735.3 806.46,736.43 806.77,736.49 807.07,736.57 807.38,737.73 807.69,738.02 808,738.87 808.31,732.26 808.62,726.11 808.92,720.77 809.23,714.09 809.54,708.95 809.85,702.43 810.16,696.42 810.47,695.36 810.78,693.56 811.08,690.45 811.39,688.9 811.7,687.86 812.01,690.62 812.31,690.98 812.62,694.49 812.93,698.91 813.23,702.49 813.54,708.88 813.85,711.55 814.15,716.47 814.46,718.47 814.77,719.21 815.07,721.84 815.38,723.01 815.69,724.2 815.99,727.04 816.3,727.37 816.61,731.11 816.91,729.89 817.22,731.19 817.53,732.84 817.83,733.17 818.14,734.61 818.45,734.75 818.75,734.67 819.06,734.36 819.37,736.12 819.67,739.51 819.98,738.97 820.29,739.17 820.59,739.01 820.9,739.75 821.21,734.71 821.51,727.59 821.82,722.85 822.12,717.58 822.43,714.76 822.74,707.73 823.04,705.55 823.35,699.84 823.66,699.34 823.96,693.26 824.27,690.54 824.57,689.51 824.88,687.19 825.19,685.92 825.49,683.1 825.8,685.04 826.1,686.34 826.4,686.68 826.7,689.56 827,693.15 827.3,700.21 827.6,705.01 827.9,710.66 828.2,713.02 828.5,718.44 828.8,720.06 829.1,721.34 829.4,724.84 829.7,724.26 830,727.79 830.3,727.47 830.6,731.32 830.9,730.96 831.2,733.68 831.5,733.16 831.8,735.01 832.1,736.7 832.4,735.53 832.7,737.34 833,737.15 833.3,739.52 833.6,738.69 833.9,739.5 834.2,740.21 834.5,742.06 834.81,734.34 835.11,729.9 835.42,724.25 835.73,718.87 836.03,713.71 836.34,709.71 836.65,705.77 836.95,700.11 837.26,698.42 837.57,693.99 837.87,692.68 838.18,692.96 838.49,688.29 838.79,688.32 839.1,687.85 839.41,689.79 839.72,690.32 840.03,692.08 840.34,696.21 840.65,702.68 840.96,707.99 841.27,714.46 841.58,717.14 841.89,720.88 842.2,721.49 842.51,726.02 842.82,726.65 843.13,727.88 843.44,730.44 843.75,733.57 844.06,732.43 844.37,733.38 844.68,734.84 844.99,735.84 845.3,737.99 845.61,739.36 845.92,739.75 846.23,740.94 846.54,742.69 846.85,741.92 847.16,741.61 847.47,741.17 847.78,744.26 848.09,743.85 848.4,744.75 848.71,736.73 849.02,728.31 849.33,718.24 849.64,711.42 849.95,705.83 850.26,699.96 850.57,696.7 850.88,691.71 851.19,688.12 851.5,690.67 851.81,689.21 852.12,693.52 852.43,700.27 852.74,705.46 853.05,716.45 853.36,717.57 853.67,720.85 853.98,722.52 854.29,727.52 854.6,727.93 854.91,728.52 855.22,732.13 855.53,730.64 855.84,733.03 856.15,735.04 856.46,735.91 856.77,735.71 857.08,739.05 857.39,739.64 857.7,737.87 858.02,733.88 858.35,727.66 858.67,722.8 858.99,719.38 859.32,713.99 859.64,709.58 859.96,706.04 860.28,701.5 860.61,701.15 860.93,697 861.25,697.48 861.58,694.76 861.9,694.44 862.2,697 862.5,697.42 862.8,699.24 863.1,702.77 863.4,707.98 863.7,713.83 864,717.52 864.3,721.01 864.6,722.59 864.9,725.17 865.2,727.69 865.5,729.88 865.8,730.67 866.1,734.17 866.4,733.38 866.7,734.96 867,737.41 867.3,738.54 867.6,738.73 867.9,741.07 868.2,739.6 868.5,743.49 868.8,744.82 869.1,745.31 869.4,744.14 869.7,746.61 870,745.26 870.3,747.07 870.6,746.03 870.9,746.87 871.2,747.62 871.51,737.52 871.82,731.41 872.13,726.07 872.44,714.73 872.75,712.06 873.06,707.49 873.37,702.79 873.68,699.65 873.99,699 874.3,697.34 874.6,695.65 874.91,698.12 875.21,701.13 875.51,704.66 875.82,707.74 876.12,712.24 876.42,718.54 876.72,718.74 877.03,725.73 877.33,727.6 877.63,729.21 877.94,730.44 878.24,732.17 878.54,734.03 878.85,735.37 879.15,735.75 879.45,738.52 879.75,738.08 880.06,739.95 880.36,740.64 880.66,740.79 880.97,743.42 881.27,743.56 881.57,743.22 881.88,745.01 882.18,744.37 882.48,747.78 882.78,747.43 883.09,749.43 883.39,747.36 883.69,749.09 884,747.84 884.3,748.35 884.6,742.15 884.9,735.95 885.2,730.29 885.5,723.69 885.8,720.62 886.1,717.18 886.4,713.31 886.7,713.32 887.02,713.66 887.33,719.19 887.64,721.25 887.96,727.98 888.28,733.96 888.59,735.49 888.9,737.64 889.22,740.58 889.54,741.34 889.85,742.52 890.17,744.29 890.48,746.9 890.8,747.92 891.11,750.51 891.42,747.85 891.74,750.98 892.06,750.05 892.37,752.98 892.68,753.09 893,753.03 893.31,750.15 893.62,744.17 893.92,740.01 894.23,735.7 894.54,732.58 894.85,730.18 895.16,727.94 895.47,726.2 895.78,722.79 896.08,720.97 896.39,720.54 896.7,720.17 897.02,723.65 897.34,731.95 897.67,737.05 897.99,741.18 898.31,743.25 898.63,745.54 898.96,745.81 899.28,748.47 899.6,749.77 899.91,744.39 900.21,737.82 900.52,731.98 900.83,726.78 901.14,722.13 901.44,718.2 901.75,714.46 902.06,709.36 902.36,708.63 902.67,703.79 902.98,702.55 903.29,701 903.59,701.63 903.9,702.33 904.2,701.14 904.51,703.92 904.81,707.85 905.12,713.09 905.42,718.87 905.73,725.93 906.03,724.97 906.34,728.24 906.64,729.64 906.95,732.62 907.25,733.42 907.55,735.99 907.86,735.68 908.16,740.04 908.47,739.23 908.77,738.24 909.08,741.54 909.38,741.16 909.69,741.18 909.99,743.38 910.3,742.99 910.6,744.73 910.92,738.06 911.24,734.22 911.55,728.4 911.87,723.86 912.19,719.34 912.51,715 912.83,711.76 913.15,709.97 913.46,708.34 913.78,706.08 914.1,708.31 914.43,711.3 914.76,716.98 915.09,726.82 915.42,729.65 915.75,733.08 916.08,734.53 916.41,738.87 916.74,737.95 917.07,739.88 917.4,740.19 917.72,738.63 918.04,733.78 918.36,727.06 918.68,723.74 919,720.36 919.3,713.58 919.6,707.65 919.9,700.94 920.2,696.25 920.5,688.92 920.8,684.82 921.1,680.36 921.4,671.68 921.7,667.62 922,660.37 922.33,656.01 922.67,652.99 923,649.05 923.33,646.78 923.67,644.02 924,640.92 924.31,637.49 924.62,634.34 924.93,633.21 925.24,632.69 925.55,629.08 925.86,626.5 926.17,622.28 926.48,621.65 926.79,620.38 927.1,616.67 927.42,620 927.73,619.18 928.05,619.95 928.37,621.3 928.68,622.84 929,624.99 929.33,625.11 929.67,625.58 930,628.92 930.33,631.18 930.67,633.85 931,632.89 931.3,636.93 931.6,637.61 931.9,638.86 932.2,639.12 932.5,640.49 932.8,641.88 933.1,645.21 933.4,645.98 933.7,648.28 934,650.49" fill="none" stroke="#e00a14" stroke-width="1.5" stroke-linejoin="miter"/>
<line x1="564.2" y1="591" x2="564.2" y2="785.05" stroke="#000" stroke-width="1.7" stroke-linecap="butt"/>
<line x1="558.4" y1="608.5" x2="564.2" y2="608.5" stroke="#000" stroke-width="1.7" stroke-linecap="butt"/>
<text x="551.7" y="612.6" font-size="13.2" text-anchor="end" fill="#000">0.85</text>
<line x1="558.4" y1="696.6" x2="564.2" y2="696.6" stroke="#000" stroke-width="1.7" stroke-linecap="butt"/>
<text x="551.7" y="700.7" font-size="13.2" text-anchor="end" fill="#000">0.80</text>
<line x1="558.4" y1="784.5" x2="564.2" y2="784.5" stroke="#000" stroke-width="1.7" stroke-linecap="butt"/>
<text x="551.7" y="788.6" font-size="13.2" text-anchor="end" fill="#000">0.75</text>
<line x1="563.35" y1="784.2" x2="935.5" y2="784.2" stroke="#000" stroke-width="1.7" stroke-linecap="butt"/>
<line x1="564.2" y1="784.2" x2="564.2" y2="790.2" stroke="#000" stroke-width="1.7" stroke-linecap="butt"/>
<text x="564.2" y="810" font-size="13.2" text-anchor="middle" fill="#000">0</text>
<line x1="617.2" y1="784.2" x2="617.2" y2="790.2" stroke="#000" stroke-width="1.7" stroke-linecap="butt"/>
<text x="617.2" y="810" font-size="13.2" text-anchor="middle" fill="#000">10</text>
<line x1="670.2" y1="784.2" x2="670.2" y2="790.2" stroke="#000" stroke-width="1.7" stroke-linecap="butt"/>
<text x="670.2" y="810" font-size="13.2" text-anchor="middle" fill="#000">20</text>
<line x1="723.2" y1="784.2" x2="723.2" y2="790.2" stroke="#000" stroke-width="1.7" stroke-linecap="butt"/>
<text x="723.2" y="810" font-size="13.2" text-anchor="middle" fill="#000">30</text>
<line x1="776.2" y1="784.2" x2="776.2" y2="790.2" stroke="#000" stroke-width="1.7" stroke-linecap="butt"/>
<text x="776.2" y="810" font-size="13.2" text-anchor="middle" fill="#000">40</text>
<line x1="829.2" y1="784.2" x2="829.2" y2="790.2" stroke="#000" stroke-width="1.7" stroke-linecap="butt"/>
<text x="829.2" y="810" font-size="13.2" text-anchor="middle" fill="#000">50</text>
<line x1="882.2" y1="784.2" x2="882.2" y2="790.2" stroke="#000" stroke-width="1.7" stroke-linecap="butt"/>
<text x="882.2" y="810" font-size="13.2" text-anchor="middle" fill="#000">60</text>
<line x1="935.2" y1="784.2" x2="935.2" y2="790.2" stroke="#000" stroke-width="1.7" stroke-linecap="butt"/>
<text x="935.2" y="810" font-size="13.2" text-anchor="middle" fill="#000">70</text>
<text x="749.9" y="836" font-size="13.7" text-anchor="middle" fill="#000">Time (min)</text>
<text x="497.6" y="687" font-size="13.7" text-anchor="middle" fill="#000" transform="rotate(-90 497.6 687)">Fluorescence ratio</text>
<text x="513.9" y="687" font-size="13.7" text-anchor="middle" fill="#000" transform="rotate(-90 513.9 687)">F350 nm/F380 nm</text>
<text x="3.3" y="874" font-size="18.5" font-weight="bold" fill="#000">j</text>
<polyline points="80.1,1074.8 80.1,989.61 105.7,989.61 105.7,1074.8" fill="#fff" stroke="#000" stroke-width="1.8" stroke-linejoin="miter"/>
<line x1="92.5" y1="988.71" x2="92.5" y2="983.8" stroke="#000" stroke-width="1.35" stroke-linecap="butt"/>
<line x1="84.7" y1="983.8" x2="100.3" y2="983.8" stroke="#000" stroke-width="1.35" stroke-linecap="butt"/>
<rect x="111.3" y="954.28" width="27.5" height="120.52" fill="#000" stroke="none" stroke-width="0"/>
<line x1="124.5" y1="954.28" x2="124.5" y2="948.4" stroke="#000" stroke-width="1.35" stroke-linecap="butt"/>
<line x1="116.3" y1="948.4" x2="132.7" y2="948.4" stroke="#000" stroke-width="1.35" stroke-linecap="butt"/>
<polyline points="152.6,1074.8 152.6,1012.65 178.3,1012.65 178.3,1074.8" fill="#fff" stroke="#ff0000" stroke-width="1.8" stroke-linejoin="miter"/>
<line x1="165.3" y1="1011.75" x2="165.3" y2="1009.4" stroke="#ff0000" stroke-width="1.35" stroke-linecap="butt"/>
<line x1="157.1" y1="1009.4" x2="173.5" y2="1009.4" stroke="#ff0000" stroke-width="1.35" stroke-linecap="butt"/>
<rect x="183.6" y="1004.47" width="27.5" height="70.33" fill="#ff0000" stroke="none" stroke-width="0"/>
<line x1="197.3" y1="1004.47" x2="197.3" y2="1001.2" stroke="#ff0000" stroke-width="1.35" stroke-linecap="butt"/>
<line x1="189.5" y1="1001.2" x2="205.1" y2="1001.2" stroke="#ff0000" stroke-width="1.35" stroke-linecap="butt"/>
<polyline points="75.6,935.7 75.6,931.6 141.5,931.6 141.5,935.7" fill="none" stroke="#222" stroke-width="1.1" stroke-linejoin="miter"/>
<polyline points="109.1,931.6 109.1,917.9 182.3,917.9 182.3,960" fill="none" stroke="#222" stroke-width="1.1" stroke-linejoin="miter"/>
<polyline points="148.4,964.6 148.4,960 214.4,960 214.4,964.6" fill="none" stroke="#222" stroke-width="1.1" stroke-linejoin="miter"/>
<text x="146.25" y="919.38" font-size="15.5" text-anchor="middle" fill="#000" letter-spacing="1.3">***</text>
<text x="110.15" y="948.08" font-size="15.5" text-anchor="middle" fill="#000" letter-spacing="1.3">***</text>
<text x="180.7" y="986" font-size="13.2" text-anchor="middle" fill="#000">NS</text>
<line x1="72.8" y1="880.8" x2="72.8" y2="1075.65" stroke="#000" stroke-width="1.7" stroke-linecap="butt"/>
<line x1="67" y1="1074.8" x2="72.8" y2="1074.8" stroke="#000" stroke-width="1.7" stroke-linecap="butt"/>
<text x="60.6" y="1078.9" font-size="13.2" text-anchor="end" fill="#000">0.0</text>
<line x1="67" y1="1050.55" x2="72.8" y2="1050.55" stroke="#000" stroke-width="1.7" stroke-linecap="butt"/>
<text x="60.6" y="1054.65" font-size="13.2" text-anchor="end" fill="#000">0.1</text>
<line x1="67" y1="1026.3" x2="72.8" y2="1026.3" stroke="#000" stroke-width="1.7" stroke-linecap="butt"/>
<text x="60.6" y="1030.4" font-size="13.2" text-anchor="end" fill="#000">0.2</text>
<line x1="67" y1="1002.05" x2="72.8" y2="1002.05" stroke="#000" stroke-width="1.7" stroke-linecap="butt"/>
<text x="60.6" y="1006.15" font-size="13.2" text-anchor="end" fill="#000">0.3</text>
<line x1="67" y1="977.8" x2="72.8" y2="977.8" stroke="#000" stroke-width="1.7" stroke-linecap="butt"/>
<text x="60.6" y="981.9" font-size="13.2" text-anchor="end" fill="#000">0.4</text>
<line x1="67" y1="953.55" x2="72.8" y2="953.55" stroke="#000" stroke-width="1.7" stroke-linecap="butt"/>
<text x="60.6" y="957.65" font-size="13.2" text-anchor="end" fill="#000">0.5</text>
<line x1="67" y1="929.3" x2="72.8" y2="929.3" stroke="#000" stroke-width="1.7" stroke-linecap="butt"/>
<text x="60.6" y="933.4" font-size="13.2" text-anchor="end" fill="#000">0.6</text>
<line x1="67" y1="905.05" x2="72.8" y2="905.05" stroke="#000" stroke-width="1.7" stroke-linecap="butt"/>
<text x="60.6" y="909.15" font-size="13.2" text-anchor="end" fill="#000">0.7</text>
<line x1="67" y1="880.8" x2="72.8" y2="880.8" stroke="#000" stroke-width="1.7" stroke-linecap="butt"/>
<text x="60.6" y="884.9" font-size="13.2" text-anchor="end" fill="#000">0.8</text>
<line x1="66" y1="1074.8" x2="218.5" y2="1074.8" stroke="#000" stroke-width="1.7" stroke-linecap="butt"/>
<line x1="109.1" y1="1074.8" x2="109.1" y2="1080" stroke="#000" stroke-width="1.5" stroke-linecap="butt"/>
<line x1="181.4" y1="1074.8" x2="181.4" y2="1080" stroke="#000" stroke-width="1.5" stroke-linecap="butt"/>
<text x="29.5" y="1101.5" font-size="13.7" fill="#000">Steviol</text>
<text x="92" y="1101.5" font-size="13.2" text-anchor="middle" fill="#000">−</text>
<text x="125" y="1101.5" font-size="13.2" text-anchor="middle" fill="#000">+</text>
<text x="166.3" y="1101.5" font-size="13.2" text-anchor="middle" fill="#000">−</text>
<text x="197.9" y="1101.5" font-size="13.2" text-anchor="middle" fill="#000">+</text>
<text x="107.9" y="1120.7" font-size="13.7" text-anchor="middle" fill="#000">WT</text>
<text x="159" y="1120.7" font-size="13.9" font-style="italic" fill="#000">Trpm5</text>
<text x="199.46" y="1116.1" font-size="10.2" font-style="italic" fill="#000">−/−</text>
<text transform="translate(30 979.5) rotate(-90)" font-size="13.5" text-anchor="middle" fill="#000">Oscilation frequency (min<tspan font-size="9.5" dy="-5.5">−1</tspan><tspan dy="5.5">)</tspan></text>
<text x="281" y="875" font-size="18.5" font-weight="bold" fill="#000">k</text>
<line x1="353.6" y1="881.2" x2="353.6" y2="1075.55" stroke="#000" stroke-width="1.7" stroke-linecap="butt"/>
<line x1="347.8" y1="1074.7" x2="353.6" y2="1074.7" stroke="#000" stroke-width="1.7" stroke-linecap="butt"/>
<text x="340.8" y="1078.8" font-size="13.2" text-anchor="end" fill="#000">0.0</text>
<line x1="347.8" y1="1053.21" x2="353.6" y2="1053.21" stroke="#000" stroke-width="1.7" stroke-linecap="butt"/>
<text x="340.8" y="1057.31" font-size="13.2" text-anchor="end" fill="#000">0.1</text>
<line x1="347.8" y1="1031.72" x2="353.6" y2="1031.72" stroke="#000" stroke-width="1.7" stroke-linecap="butt"/>
<text x="340.8" y="1035.82" font-size="13.2" text-anchor="end" fill="#000">0.2</text>
<line x1="347.8" y1="1010.23" x2="353.6" y2="1010.23" stroke="#000" stroke-width="1.7" stroke-linecap="butt"/>
<text x="340.8" y="1014.33" font-size="13.2" text-anchor="end" fill="#000">0.3</text>
<line x1="347.8" y1="988.74" x2="353.6" y2="988.74" stroke="#000" stroke-width="1.7" stroke-linecap="butt"/>
<text x="340.8" y="992.84" font-size="13.2" text-anchor="end" fill="#000">0.4</text>
<line x1="347.8" y1="967.25" x2="353.6" y2="967.25" stroke="#000" stroke-width="1.7" stroke-linecap="butt"/>
<text x="340.8" y="971.35" font-size="13.2" text-anchor="end" fill="#000">0.5</text>
<line x1="347.8" y1="945.76" x2="353.6" y2="945.76" stroke="#000" stroke-width="1.7" stroke-linecap="butt"/>
<text x="340.8" y="949.86" font-size="13.2" text-anchor="end" fill="#000">0.6</text>
<line x1="347.8" y1="924.27" x2="353.6" y2="924.27" stroke="#000" stroke-width="1.7" stroke-linecap="butt"/>
<text x="340.8" y="928.37" font-size="13.2" text-anchor="end" fill="#000">0.7</text>
<line x1="347.8" y1="902.78" x2="353.6" y2="902.78" stroke="#000" stroke-width="1.7" stroke-linecap="butt"/>
<text x="340.8" y="906.88" font-size="13.2" text-anchor="end" fill="#000">0.8</text>
<line x1="347.8" y1="881.29" x2="353.6" y2="881.29" stroke="#000" stroke-width="1.7" stroke-linecap="butt"/>
<text x="340.8" y="885.39" font-size="13.2" text-anchor="end" fill="#000">0.9</text>
<line x1="347.4" y1="1074.7" x2="444.3" y2="1074.7" stroke="#000" stroke-width="1.7" stroke-linecap="butt"/>
<circle cx="386.6" cy="930.4" r="7.3" fill="#fff" stroke="#000" stroke-width="1.25"/>
<circle cx="410.3" cy="929.9" r="7.3" fill="#fff" stroke="#000" stroke-width="1.25"/>
<circle cx="398.6" cy="959.9" r="7.3" fill="#fff" stroke="#000" stroke-width="1.25"/>
<circle cx="398.6" cy="974.1" r="7.3" fill="#fff" stroke="#000" stroke-width="1.25"/>
<circle cx="410.3" cy="992.3" r="7.3" fill="#fff" stroke="#000" stroke-width="1.25"/>
<circle cx="386.6" cy="1006.1" r="7.3" fill="#fff" stroke="#000" stroke-width="1.25"/>
<circle cx="374.4" cy="1022.3" r="7.3" fill="#fff" stroke="#000" stroke-width="1.25"/>
<circle cx="398.6" cy="1027.3" r="7.3" fill="#fff" stroke="#000" stroke-width="1.25"/>
<circle cx="398.6" cy="1033.5" r="7.3" fill="#fff" stroke="#000" stroke-width="1.25"/>
<circle cx="422.3" cy="1027.8" r="7.3" fill="#fff" stroke="#000" stroke-width="1.25"/>
<line x1="361.1" y1="990.6" x2="436" y2="990.6" stroke="#000" stroke-width="3.3" stroke-linecap="butt"/>
<line x1="398.6" y1="977.9" x2="398.6" y2="1003.1" stroke="#000" stroke-width="1.4" stroke-linecap="butt"/>
<line x1="384.9" y1="977.9" x2="412.8" y2="977.9" stroke="#000" stroke-width="1.4" stroke-linecap="butt"/>
<line x1="384.9" y1="1003.1" x2="412.8" y2="1003.1" stroke="#000" stroke-width="1.4" stroke-linecap="butt"/>
<text x="292.4" y="977.4" font-size="13.7" text-anchor="middle" fill="#000" transform="rotate(-90 292.4 977.4)">Plasma concentration</text>
<text x="309.2" y="976.8" font-size="13.0" text-anchor="middle" fill="#000" transform="rotate(-90 309.2 976.8)">[steviol] (µM)</text>
<text x="494" y="875.5" font-size="18.5" font-weight="bold" fill="#000">l</text>
<rect x="661.8" y="873.8" width="89" height="200.5" fill="#f0f0f0" stroke="none" stroke-width="0"/>
<text x="568.2" y="896" font-size="13.5" fill="#000">WT</text>
<text x="705.5" y="894.6" font-size="13.6" text-anchor="middle" fill="#000">400 nM steviol</text>
<text x="663.5" y="1066.4" font-size="13.6" fill="#000"><tspan font-style="italic">n</tspan> = 81, 3 mice</text>
<polyline points="565.3,1062.01 565.51,1061.86 565.72,1062.22 565.94,1061.3 566.15,1061.39 566.36,1061.28 566.58,1061.16 566.79,1061.16 567,1060.8 567.2,1061.24 567.4,1060.58 567.6,1060.67 567.8,1060.41 568,1060.43 568.2,1060.88 568.4,1060.84 568.6,1060.6 568.8,1060.81 569,1060.71 569.2,1060.37 569.4,1060.46 569.6,1060.51 569.8,1060.87 570,1060.23 570.2,1060.38 570.4,1060.38 570.6,1060.5 570.81,1060.28 571.02,1060.41 571.24,1059.86 571.45,1060.04 571.66,1059.6 571.88,1060.04 572.09,1060.6 572.3,1060.06 572.51,1060 572.73,1060.02 572.94,1059.96 573.15,1059.58 573.36,1059.7 573.58,1059.81 573.79,1059.87 574,1059.59 574.21,1059.75 574.41,1059.57 574.62,1059.39 574.82,1059.53 575.03,1059.46 575.23,1059.84 575.44,1059.93 575.64,1059.72 575.85,1059.5 576.06,1059.39 576.26,1059.11 576.47,1059.34 576.67,1059.82 576.88,1059.69 577.08,1059.44 577.29,1059.3 577.49,1059.33 577.7,1059.4 577.91,1059.23 578.12,1059.26 578.33,1058.89 578.54,1059.02 578.75,1058.85 578.95,1059.13 579.16,1058.49 579.37,1059.04 579.58,1058.62 579.79,1058.45 580,1058.51 580.2,1058.47 580.4,1058.31 580.6,1058.41 580.8,1058.09 581,1057.76 581.2,1058.27 581.4,1058.03 581.6,1058.38 581.8,1058 582,1057.34 582.2,1058.07 582.4,1057.53 582.6,1057.77 582.8,1058.11 583,1057.77 583.2,1057.3 583.4,1057.61 583.6,1057.31 583.8,1057.93 584,1057.97 584.2,1057.65 584.4,1058.08 584.6,1058.26 584.8,1058.3 585,1058.01 585.2,1058.06 585.4,1058.03 585.6,1058.05 585.8,1058.51 586,1058.51 586.2,1058.83 586.4,1058.6 586.6,1058.47 586.8,1058.21 587,1058.95 587.2,1058.63 587.4,1058.6 587.6,1058.37 587.8,1058.38 588,1058.81 588.2,1058.43 588.4,1058.82 588.6,1058.85 588.8,1058.62 589,1058.33 589.2,1058.84 589.4,1059.1 589.6,1058.57 589.8,1058.48 590,1059.07 590.23,1058.35 590.45,1057.67 590.67,1057.64 590.9,1056.78 591.12,1056.47 591.35,1055.78 591.57,1055.21 591.8,1054.95 592,1053.32 592.2,1051.71 592.4,1050.64 592.6,1049.69 592.8,1048.28 593,1047.17 593.2,1045.5 593.4,1044.27 593.6,1042.56 593.8,1041.92 594,1041.66 594.2,1040.84 594.4,1040.77 594.6,1040.01 594.8,1039.7 595,1038.95 595.2,1038.65 595.4,1038.45 595.6,1037.68 595.8,1037.09 596,1036.85 596.2,1036.52 596.47,1034.16 596.73,1031.81 597,1029.62 597.21,1024.22 597.42,1018.92 597.63,1012.11 597.84,1004.94 598.05,997.14 598.25,989.03 598.46,982.09 598.67,976.43 598.88,972.42 599.09,970.71 599.3,969.48 599.51,970 599.73,969.95 599.94,970.54 600.16,971.42 600.37,971.08 600.59,971.67 600.8,972.32 601,974.38 601.2,976.91 601.4,978.8 601.6,981.95 601.8,984.09 602,986.95 602.2,989.06 602.4,991.43 602.6,994.07 602.8,996.34 603,998.71 603.2,1001.66 603.4,1003.96 603.6,1006.19 603.8,1008.8 604,1011.24 604.2,1013.62 604.4,1015.93 604.6,1018.38 604.8,1020.9 605,1023.38 605.2,1025.77 605.4,1027.99 605.6,1030.54 605.8,1033.11 606,1035.21 606.2,1037.88 606.4,1040.51 606.6,1042.8 606.8,1045.13 607.01,1044.98 607.22,1044.66 607.44,1044.8 607.65,1044.26 607.86,1043.73 608.08,1043.64 608.29,1043.79 608.5,1043.55 608.71,1038.72 608.91,1033.87 609.12,1029.48 609.33,1024.66 609.53,1020.04 609.74,1015.54 609.95,1010.69 610.15,1006.3 610.36,1001.38 610.57,996.79 610.77,992.18 610.98,987.93 611.19,983.31 611.39,978.49 611.6,973.42 611.81,973.93 612.01,974.67 612.22,975.37 612.43,975.72 612.64,977.29 612.84,978.57 613.05,980.67 613.26,982.67 613.46,984.72 613.67,988 613.88,990.34 614.09,994.19 614.29,996.96 614.5,1000.53 614.71,1004.65 614.91,1007.72 615.12,1011.35 615.33,1015.34 615.54,1018.37 615.74,1021.75 615.95,1024.45 616.16,1028.16 616.36,1030.81 616.57,1033.39 616.78,1036.12 616.99,1038.37 617.19,1040.87 617.4,1043.02 617.6,1038.84 617.8,1034.16 618,1028.87 618.2,1023.32 618.4,1017.23 618.6,1010.33 618.8,1003.39 619,996.9 619.2,990.12 619.4,984.31 619.6,978.91 619.8,974.68 620,971.91 620.2,969.46 620.4,967.77 620.6,967.25 620.81,967.77 621.01,968.73 621.22,970.41 621.42,972.87 621.63,975.94 621.83,979.22 622.04,982.82 622.24,987.95 622.45,992.92 622.65,998.61 622.86,1004.01 623.06,1009.68 623.27,1014.58 623.47,1020.36 623.68,1024.38 623.88,1029.05 624.09,1032.88 624.29,1037 624.5,1040.42 624.71,1037.51 624.92,1034.47 625.13,1030.68 625.34,1025.92 625.55,1022.08 625.75,1017.06 625.96,1013.46 626.17,1010.44 626.38,1008.03 626.59,1006.83 626.8,1006.24 627.01,1007.11 627.22,1008.82 627.43,1011.59 627.64,1015.19 627.85,1020.41 628.06,1024.85 628.27,1030.37 628.48,1034.19 628.69,1038.28 628.9,1041.57 629.1,1036 629.3,1029.76 629.5,1023.59 629.7,1016.85 629.9,1008.56 630.1,1000.21 630.3,991.99 630.5,984.7 630.7,978.31 630.9,973.69 631.1,970.49 631.3,968.72 631.5,967.63 631.7,967.44 631.9,968.01 632.1,968.79 632.3,969.81 632.5,970.85 632.7,971.8 632.9,973.82 633.1,974.96 633.3,977.29 633.5,979.5 633.7,982.02 633.9,984.4 634.1,987.43 634.3,990.07 634.5,993.27 634.7,996.95 634.9,1000.7 635.1,1004.2 635.3,1007.3 635.5,1010.86 635.7,1013.94 635.9,1017.23 636.1,1019.42 636.3,1022.44 636.5,1025.11 636.7,1027.72 636.9,1030.89 637.1,1032.72 637.3,1035.11 637.5,1037.54 637.7,1040.12 637.91,1035.08 638.13,1030.39 638.34,1025.03 638.55,1018.99 638.77,1012.34 638.98,1005.94 639.19,998.85 639.41,992.61 639.62,985.63 639.83,980.02 640.05,975.94 640.26,972.5 640.47,969.9 640.69,968.86 640.9,968.02 641.1,968.23 641.3,968.59 641.5,969.41 641.7,970.29 641.9,972.32 642.1,974.13 642.3,975.98 642.5,978.76 642.7,982.46 642.9,984.65 643.1,988.04 643.3,992.35 643.5,995.94 643.7,999.79 643.9,1003.84 644.1,1007.3 644.3,1011.05 644.5,1014.24 644.7,1017.53 644.9,1020.25 645.1,1022.53 645.3,1026.12 645.5,1028.02 645.7,1031.25 645.92,1025.9 646.13,1019.98 646.35,1014.26 646.57,1007.73 646.78,999.9 647,992.52 647.22,985.1 647.43,978.92 647.65,974.33 647.87,971.55 648.08,969.42 648.3,968.3 648.5,968.63 648.7,969.26 648.9,970.11 649.1,971.17 649.3,972.08 649.5,974.41 649.7,976.01 649.9,977.98 650.1,981.51 650.3,984.12 650.5,987.73 650.7,991.33 650.9,994.94 651.1,999 651.3,1002.55 651.5,1006.22 651.7,1009.57 651.9,1013.09 652.1,1016.09 652.3,1019.39 652.5,1022.59 652.7,1025.28 652.9,1027.81 653.1,1029.97 653.3,1033.05 653.5,1027.43 653.7,1021.71 653.9,1014.1 654.1,1007.34 654.3,999.27 654.5,991.32 654.7,982.96 654.9,976.48 655.1,972.06 655.3,968.24 655.5,965.36 655.7,964.81 655.91,965.61 656.11,965.98 656.32,967.54 656.52,969.13 656.73,970.98 656.93,973.95 657.13,977.71 657.34,981.62 657.54,985.54 657.75,990.64 657.96,995.03 658.16,1000.09 658.37,1004.7 658.57,1008.83 658.77,1013.39 658.98,1017.13 659.18,1020.26 659.39,1024.21 659.59,1027.57 659.8,1030.79 660.01,1027.13 660.21,1023.4 660.42,1018.99 660.62,1015.55 660.83,1010.8 661.03,1005.97 661.24,1000.66 661.44,995.33 661.65,989.81 661.86,984.35 662.06,979.45 662.27,975.62 662.47,972.34 662.68,969.35 662.88,967.53 663.09,965.26 663.29,964.51 663.5,963.85 663.7,964.89 663.9,966.1 664.1,967.19 664.3,969.76 664.5,972.47 664.7,975.98 664.9,980.63 665.1,985.47 665.3,991.63 665.5,997.14 665.7,1002.98 665.9,1008.25 666.1,1012.72 666.3,1018.28 666.5,1022.58 666.7,1026.18 666.9,1030.79 667.1,1034.85 667.3,1028.76 667.5,1021.43 667.7,1014.66 667.9,1006.61 668.1,997.78 668.3,988.52 668.5,979.56 668.7,971.28 668.9,964.44 669.1,958.99 669.3,955.16 669.5,953.54 669.7,952.41 669.91,952.55 670.11,953.76 670.32,955.62 670.52,957.3 670.73,960.86 670.94,965.09 671.14,969.07 671.35,973.92 671.55,980.01 671.76,985.02 671.96,990.41 672.17,995.28 672.38,1000.1 672.58,1003.98 672.79,1008.16 672.99,1011.97 673.2,1016.22 673.41,1011.84 673.61,1007.79 673.82,1002.36 674.03,997.66 674.23,992.68 674.44,986.23 674.65,979.83 674.85,974.01 675.06,968.5 675.27,963.74 675.47,960.17 675.68,957.24 675.89,955.2 676.09,953.64 676.3,952.68 676.5,953.5 676.7,954.88 676.9,958.1 677.1,961.73 677.3,966.26 677.5,971.95 677.7,979.07 677.9,986.08 678.1,992.91 678.3,999.04 678.5,1005.27 678.7,1010.49 678.9,1015.83 679.1,1020.54 679.31,1014.77 679.52,1008.29 679.73,1001.72 679.94,993.59 680.15,985.29 680.36,977.31 680.57,970.97 680.78,966.55 680.99,963.6 681.2,962.26 681.41,963.02 681.61,964.4 681.82,966.02 682.02,967.98 682.23,970.76 682.44,974.69 682.64,978.34 682.85,982.74 683.05,987.84 683.26,993.27 683.46,998.49 683.67,1003.18 683.88,1007.3 684.08,1011.6 684.29,1015.18 684.49,1018.6 684.7,1022.11 684.9,1018.02 685.1,1013.48 685.3,1008.07 685.5,1002.79 685.7,997.29 685.9,991.56 686.1,984.27 686.3,977.84 686.5,972.33 686.7,967.26 686.9,962.89 687.1,959.93 687.3,957.85 687.5,955.9 687.7,955.59 687.91,956.39 688.12,957.65 688.34,959.53 688.55,961.75 688.76,964.72 688.97,969.53 689.18,974.33 689.39,979.56 689.61,985.93 689.82,991.96 690.03,997.53 690.24,1002.52 690.45,1008.1 690.66,1012.8 690.88,1017.24 691.09,1021.64 691.3,1025.44 691.51,1017.27 691.72,1008.2 691.93,996.65 692.14,985.05 692.36,972.41 692.57,962.33 692.78,954.94 692.99,951.04 693.2,948.73 693.41,949.65 693.61,950.33 693.82,952.17 694.02,954.33 694.23,957.52 694.44,960.52 694.64,964.92 694.85,970.49 695.05,975.51 695.26,981.14 695.46,985.64 695.67,990.81 695.88,995.43 696.08,999.91 696.29,1003.41 696.49,1007.03 696.7,1010.88 696.91,1006.39 697.12,1001.63 697.33,996.96 697.53,990.72 697.74,984.82 697.95,979.05 698.16,972.59 698.37,967.54 698.58,963.83 698.78,961.32 698.99,959.52 699.2,958.36 699.41,959.03 699.61,960.47 699.82,961.78 700.02,963.88 700.23,967.16 700.44,970.88 700.64,975.47 700.85,979.6 701.05,984.94 701.26,990.26 701.46,995.68 701.67,1000.35 701.88,1005.25 702.08,1008.53 702.29,1013.35 702.49,1016.68 702.7,1020.33 702.91,1015.08 703.12,1009.09 703.33,1002.25 703.54,995.54 703.75,987.36 703.95,979.17 704.16,972.35 704.37,966.6 704.58,962.82 704.79,960.78 705,959.89 705.21,960.58 705.42,961.91 705.62,964.23 705.83,967.69 706.04,973.15 706.25,978.51 706.45,984.46 706.66,991.23 706.87,997 707.08,1002.18 707.28,1007.06 707.49,1012.02 707.7,1016.08 707.91,1010.92 708.12,1004.62 708.33,997.66 708.54,990.08 708.75,982 708.96,974.72 709.17,968.7 709.38,964.63 709.59,962.12 709.8,960.65 710,961.5 710.2,962.6 710.4,964.96 710.6,967.4 710.8,971.38 711,975.99 711.2,981.37 711.4,987.04 711.6,992.93 711.8,997.59 712,1001.96 712.2,1006.5 712.4,1010.73 712.6,1014.43 712.81,1008.9 713.02,1003.47 713.23,996.85 713.43,989.49 713.64,981.98 713.85,973.28 714.06,965.92 714.27,959.27 714.48,954.58 714.68,951.5 714.89,948.89 715.1,948.38 715.31,948.58 715.53,950.78 715.74,952.53 715.95,956.28 716.17,961.4 716.38,966.95 716.59,973.76 716.81,981.04 717.02,988.48 717.23,995.5 717.45,1001.89 717.66,1008.11 717.87,1013.81 718.09,1018.81 718.3,1024.11 718.5,1019.67 718.7,1013.79 718.9,1008.57 719.1,1002.6 719.3,996.05 719.5,989.05 719.7,981.9 719.9,975.76 720.1,970.56 720.3,966.59 720.5,964.23 720.7,962.18 720.9,960.95 721.11,961.89 721.32,964.49 721.53,967.7 721.74,972.62 721.95,978.85 722.15,986.39 722.36,993.74 722.57,1000.31 722.78,1006.39 722.99,1012.11 723.2,1017.09 723.4,1012.81 723.6,1008.19 723.8,1003.15 724,998.53 724.2,993.1 724.4,987.03 724.6,980.72 724.8,974.3 725,968.59 725.2,963.57 725.4,959.9 725.6,956.53 725.8,954.99 726,953.3 726.2,952.32 726.43,954.23 726.65,958.29 726.88,966.17 727.1,976.88 727.33,989.11 727.55,998.81 727.77,1008.24 728,1016.02 728.21,1009.85 728.42,1003.5 728.63,995.58 728.84,988.13 729.05,979.52 729.25,970.28 729.46,962.4 729.67,956.41 729.88,952.36 730.09,949.56 730.3,948.53 730.5,950.38 730.7,954.24 730.9,961.36 731.1,971.26 731.3,983.12 731.5,994.36 731.7,1004.83 731.9,1013.92 732.1,1022.49 732.31,1014.79 732.52,1006.18 732.73,997.09 732.94,987.53 733.15,976.18 733.36,965.54 733.57,957.43 733.78,952.02 733.99,948.96 734.2,947.49 734.41,948.42 734.62,951.57 734.83,957.37 735.04,964.29 735.25,974.43 735.46,984.32 735.67,993.87 735.88,1002.68 736.09,1010.08 736.3,1016.7 736.51,1010.49 736.72,1004.32 736.93,997.2 737.14,989.3 737.35,979.53 737.55,971.7 737.76,963.78 737.97,957.99 738.18,953.67 738.39,951.02 738.6,949.9 738.81,951.12 739.02,953.52 739.23,958 739.44,964.39 739.65,972.4 739.85,981.39 740.06,990.67 740.27,999.67 740.48,1007.29 740.69,1014.07 740.9,1020.12 741.1,1010.66 741.3,998.47 741.5,984.11 741.7,972.57 741.9,964.48 742.1,962.64 742.31,963.47 742.52,965.92 742.73,969.88 742.94,976.69 743.15,985.49 743.35,994.83 743.56,1003.96 743.77,1012.14 743.98,1020.18 744.19,1027.18 744.4,1033.81 744.62,1022.97 744.83,1010.3 745.05,994.82 745.27,981.7 745.48,974.29 745.7,970.65 745.91,971.99 746.12,973.98 746.33,976.3 746.54,979.76 746.75,985.48 746.95,990.51 747.16,996.83 747.37,1001.97 747.58,1007.13 747.79,1011.41 748,1015.15 748.2,1005.45 748.4,993.2 748.6,978.7 748.8,966 749,959.37 749.2,955.9 749.45,978.1 749.7,999.97 749.97,986.55 750.23,972.95 750.5,959.96 750.73,948.71 750.97,937.71 751.2,926.08 751.43,914.55 751.67,903.41 751.9,892.39 752.12,892.98 752.34,893.62 752.56,893.87 752.78,894.61 753,895.03 753.2,896.71 753.4,897.59 753.6,898.94 753.8,900.34 754,901.8 754.2,902.58 754.4,903.99 754.6,905.33 754.8,906.18 755,908.31 755.23,909.51 755.45,910.51 755.67,912.57 755.9,913.31 756.12,914.74 756.35,915.88 756.57,916.97 756.8,917.66 757,919.04 757.2,919.43 757.4,919.71 757.6,920.68 757.8,921.52 758,922.24 758.23,922.42 758.45,922.62 758.67,923.31 758.9,923.32 759.12,923.86 759.35,924.43 759.57,924.28 759.8,925.09" fill="none" stroke="#000" stroke-width="1.4" stroke-linejoin="miter"/>
<circle cx="759.6" cy="925" r="1.4" fill="#000"/>
<line x1="564.2" y1="880.8" x2="564.2" y2="1075.55" stroke="#000" stroke-width="1.7" stroke-linecap="butt"/>
<line x1="558.4" y1="900.7" x2="564.2" y2="900.7" stroke="#000" stroke-width="1.7" stroke-linecap="butt"/>
<text x="551.9" y="904.8" font-size="13.2" text-anchor="end" fill="#000">1.2</text>
<line x1="558.4" y1="939.4" x2="564.2" y2="939.4" stroke="#000" stroke-width="1.7" stroke-linecap="butt"/>
<text x="551.9" y="943.5" font-size="13.2" text-anchor="end" fill="#000">1.1</text>
<line x1="558.4" y1="977.9" x2="564.2" y2="977.9" stroke="#000" stroke-width="1.7" stroke-linecap="butt"/>
<text x="551.9" y="982" font-size="13.2" text-anchor="end" fill="#000">1.0</text>
<line x1="558.4" y1="1016.6" x2="564.2" y2="1016.6" stroke="#000" stroke-width="1.7" stroke-linecap="butt"/>
<text x="551.9" y="1020.7" font-size="13.2" text-anchor="end" fill="#000">0.9</text>
<line x1="558.4" y1="1055.3" x2="564.2" y2="1055.3" stroke="#000" stroke-width="1.7" stroke-linecap="butt"/>
<text x="551.9" y="1059.4" font-size="13.2" text-anchor="end" fill="#000">0.8</text>
<line x1="563.35" y1="1074.7" x2="761" y2="1074.7" stroke="#000" stroke-width="1.7" stroke-linecap="butt"/>
<line x1="564.2" y1="1074.7" x2="564.2" y2="1080.7" stroke="#000" stroke-width="1.7" stroke-linecap="butt"/>
<text x="564.2" y="1098.8" font-size="13.2" text-anchor="middle" fill="#000">0</text>
<line x1="592.3" y1="1074.7" x2="592.3" y2="1080.7" stroke="#000" stroke-width="1.7" stroke-linecap="butt"/>
<text x="592.3" y="1098.8" font-size="13.2" text-anchor="middle" fill="#000">10</text>
<line x1="620.4" y1="1074.7" x2="620.4" y2="1080.7" stroke="#000" stroke-width="1.7" stroke-linecap="butt"/>
<text x="620.4" y="1098.8" font-size="13.2" text-anchor="middle" fill="#000">20</text>
<line x1="648.5" y1="1074.7" x2="648.5" y2="1080.7" stroke="#000" stroke-width="1.7" stroke-linecap="butt"/>
<text x="648.5" y="1098.8" font-size="13.2" text-anchor="middle" fill="#000">30</text>
<line x1="676.6" y1="1074.7" x2="676.6" y2="1080.7" stroke="#000" stroke-width="1.7" stroke-linecap="butt"/>
<text x="676.6" y="1098.8" font-size="13.2" text-anchor="middle" fill="#000">40</text>
<line x1="704.7" y1="1074.7" x2="704.7" y2="1080.7" stroke="#000" stroke-width="1.7" stroke-linecap="butt"/>
<text x="704.7" y="1098.8" font-size="13.2" text-anchor="middle" fill="#000">50</text>
<line x1="732.8" y1="1074.7" x2="732.8" y2="1080.7" stroke="#000" stroke-width="1.7" stroke-linecap="butt"/>
<text x="732.8" y="1098.8" font-size="13.2" text-anchor="middle" fill="#000">60</text>
<line x1="760.9" y1="1074.7" x2="760.9" y2="1080.7" stroke="#000" stroke-width="1.7" stroke-linecap="butt"/>
<text x="760.9" y="1098.8" font-size="13.2" text-anchor="middle" fill="#000">70</text>
<text x="663.8" y="1119.6" font-size="13.7" text-anchor="middle" fill="#000">Time (min)</text>
<text x="503.6" y="978.4" font-size="13.7" text-anchor="middle" fill="#000" transform="rotate(-90 503.6 978.4)">Fluorescence ratio</text>
<text x="519.8" y="978.4" font-size="13.7" text-anchor="middle" fill="#000" transform="rotate(-90 519.8 978.4)">F350 nm/F380 nm</text>
<text x="786.5" y="875.5" font-size="18.5" font-weight="bold" fill="#000">m</text>
<polyline points="852.8,1074.7 852.8,1031.61 882.7,1031.61 882.7,1074.7" fill="#fff" stroke="#000" stroke-width="1.8" stroke-linejoin="miter"/>
<line x1="867.4" y1="1030.71" x2="867.4" y2="1017.3" stroke="#000" stroke-width="1.35" stroke-linecap="butt"/>
<line x1="860.1" y1="1017.3" x2="874.7" y2="1017.3" stroke="#000" stroke-width="1.35" stroke-linecap="butt"/>
<rect x="896" y="965.61" width="32.9" height="109.09" fill="#000" stroke="none" stroke-width="0"/>
<line x1="912.8" y1="965.61" x2="912.8" y2="952.4" stroke="#000" stroke-width="1.35" stroke-linecap="butt"/>
<line x1="905.8" y1="952.4" x2="919.8" y2="952.4" stroke="#000" stroke-width="1.35" stroke-linecap="butt"/>
<polyline points="867.4,939.1 867.4,926.9 912.8,926.9 912.8,939.1" fill="none" stroke="#222" stroke-width="1.1" stroke-linejoin="miter"/>
<text x="891.15" y="925.98" font-size="15.5" text-anchor="middle" fill="#000" letter-spacing="1.3">***</text>
<text x="852.4" y="893.3" font-size="13.5" fill="#000">WT</text>
<line x1="844.9" y1="881.2" x2="844.9" y2="1075.55" stroke="#000" stroke-width="1.7" stroke-linecap="butt"/>
<line x1="839.1" y1="1074.7" x2="844.9" y2="1074.7" stroke="#000" stroke-width="1.7" stroke-linecap="butt"/>
<text x="832.7" y="1078.8" font-size="13.2" text-anchor="end" fill="#000">0.4</text>
<line x1="839.1" y1="1039.51" x2="844.9" y2="1039.51" stroke="#000" stroke-width="1.7" stroke-linecap="butt"/>
<text x="832.7" y="1043.61" font-size="13.2" text-anchor="end" fill="#000">0.5</text>
<line x1="839.1" y1="1004.32" x2="844.9" y2="1004.32" stroke="#000" stroke-width="1.7" stroke-linecap="butt"/>
<text x="832.7" y="1008.42" font-size="13.2" text-anchor="end" fill="#000">0.6</text>
<line x1="839.1" y1="969.13" x2="844.9" y2="969.13" stroke="#000" stroke-width="1.7" stroke-linecap="butt"/>
<text x="832.7" y="973.23" font-size="13.2" text-anchor="end" fill="#000">0.7</text>
<line x1="839.1" y1="933.94" x2="844.9" y2="933.94" stroke="#000" stroke-width="1.7" stroke-linecap="butt"/>
<text x="832.7" y="938.04" font-size="13.2" text-anchor="end" fill="#000">0.8</text>
<line x1="839.1" y1="898.75" x2="844.9" y2="898.75" stroke="#000" stroke-width="1.7" stroke-linecap="butt"/>
<text x="832.7" y="902.85" font-size="13.2" text-anchor="end" fill="#000">0.9</text>
<line x1="838.7" y1="1074.7" x2="936" y2="1074.7" stroke="#000" stroke-width="1.7" stroke-linecap="butt"/>
<line x1="867.4" y1="1074.7" x2="867.4" y2="1080" stroke="#000" stroke-width="1.5" stroke-linecap="butt"/>
<line x1="912.8" y1="1074.7" x2="912.8" y2="1080" stroke="#000" stroke-width="1.5" stroke-linecap="butt"/>
<text x="799" y="977.5" font-size="13.7" text-anchor="middle" fill="#000" transform="rotate(-90 799 977.5)">osc/min</text>
<text x="872.4" y="1087.2" font-size="13.7" text-anchor="end" fill="#000" transform="rotate(-90 872.4 1087.2)">Control</text>
<text x="910.3" y="1087.2" font-size="13.7" text-anchor="end" fill="#000" transform="rotate(-90 910.3 1087.2)">400 nM</text>
<text x="926.4" y="1090.4" font-size="13.7" text-anchor="end" fill="#000" transform="rotate(-90 926.4 1090.4)">steviol</text>
</svg>
</body></html>
